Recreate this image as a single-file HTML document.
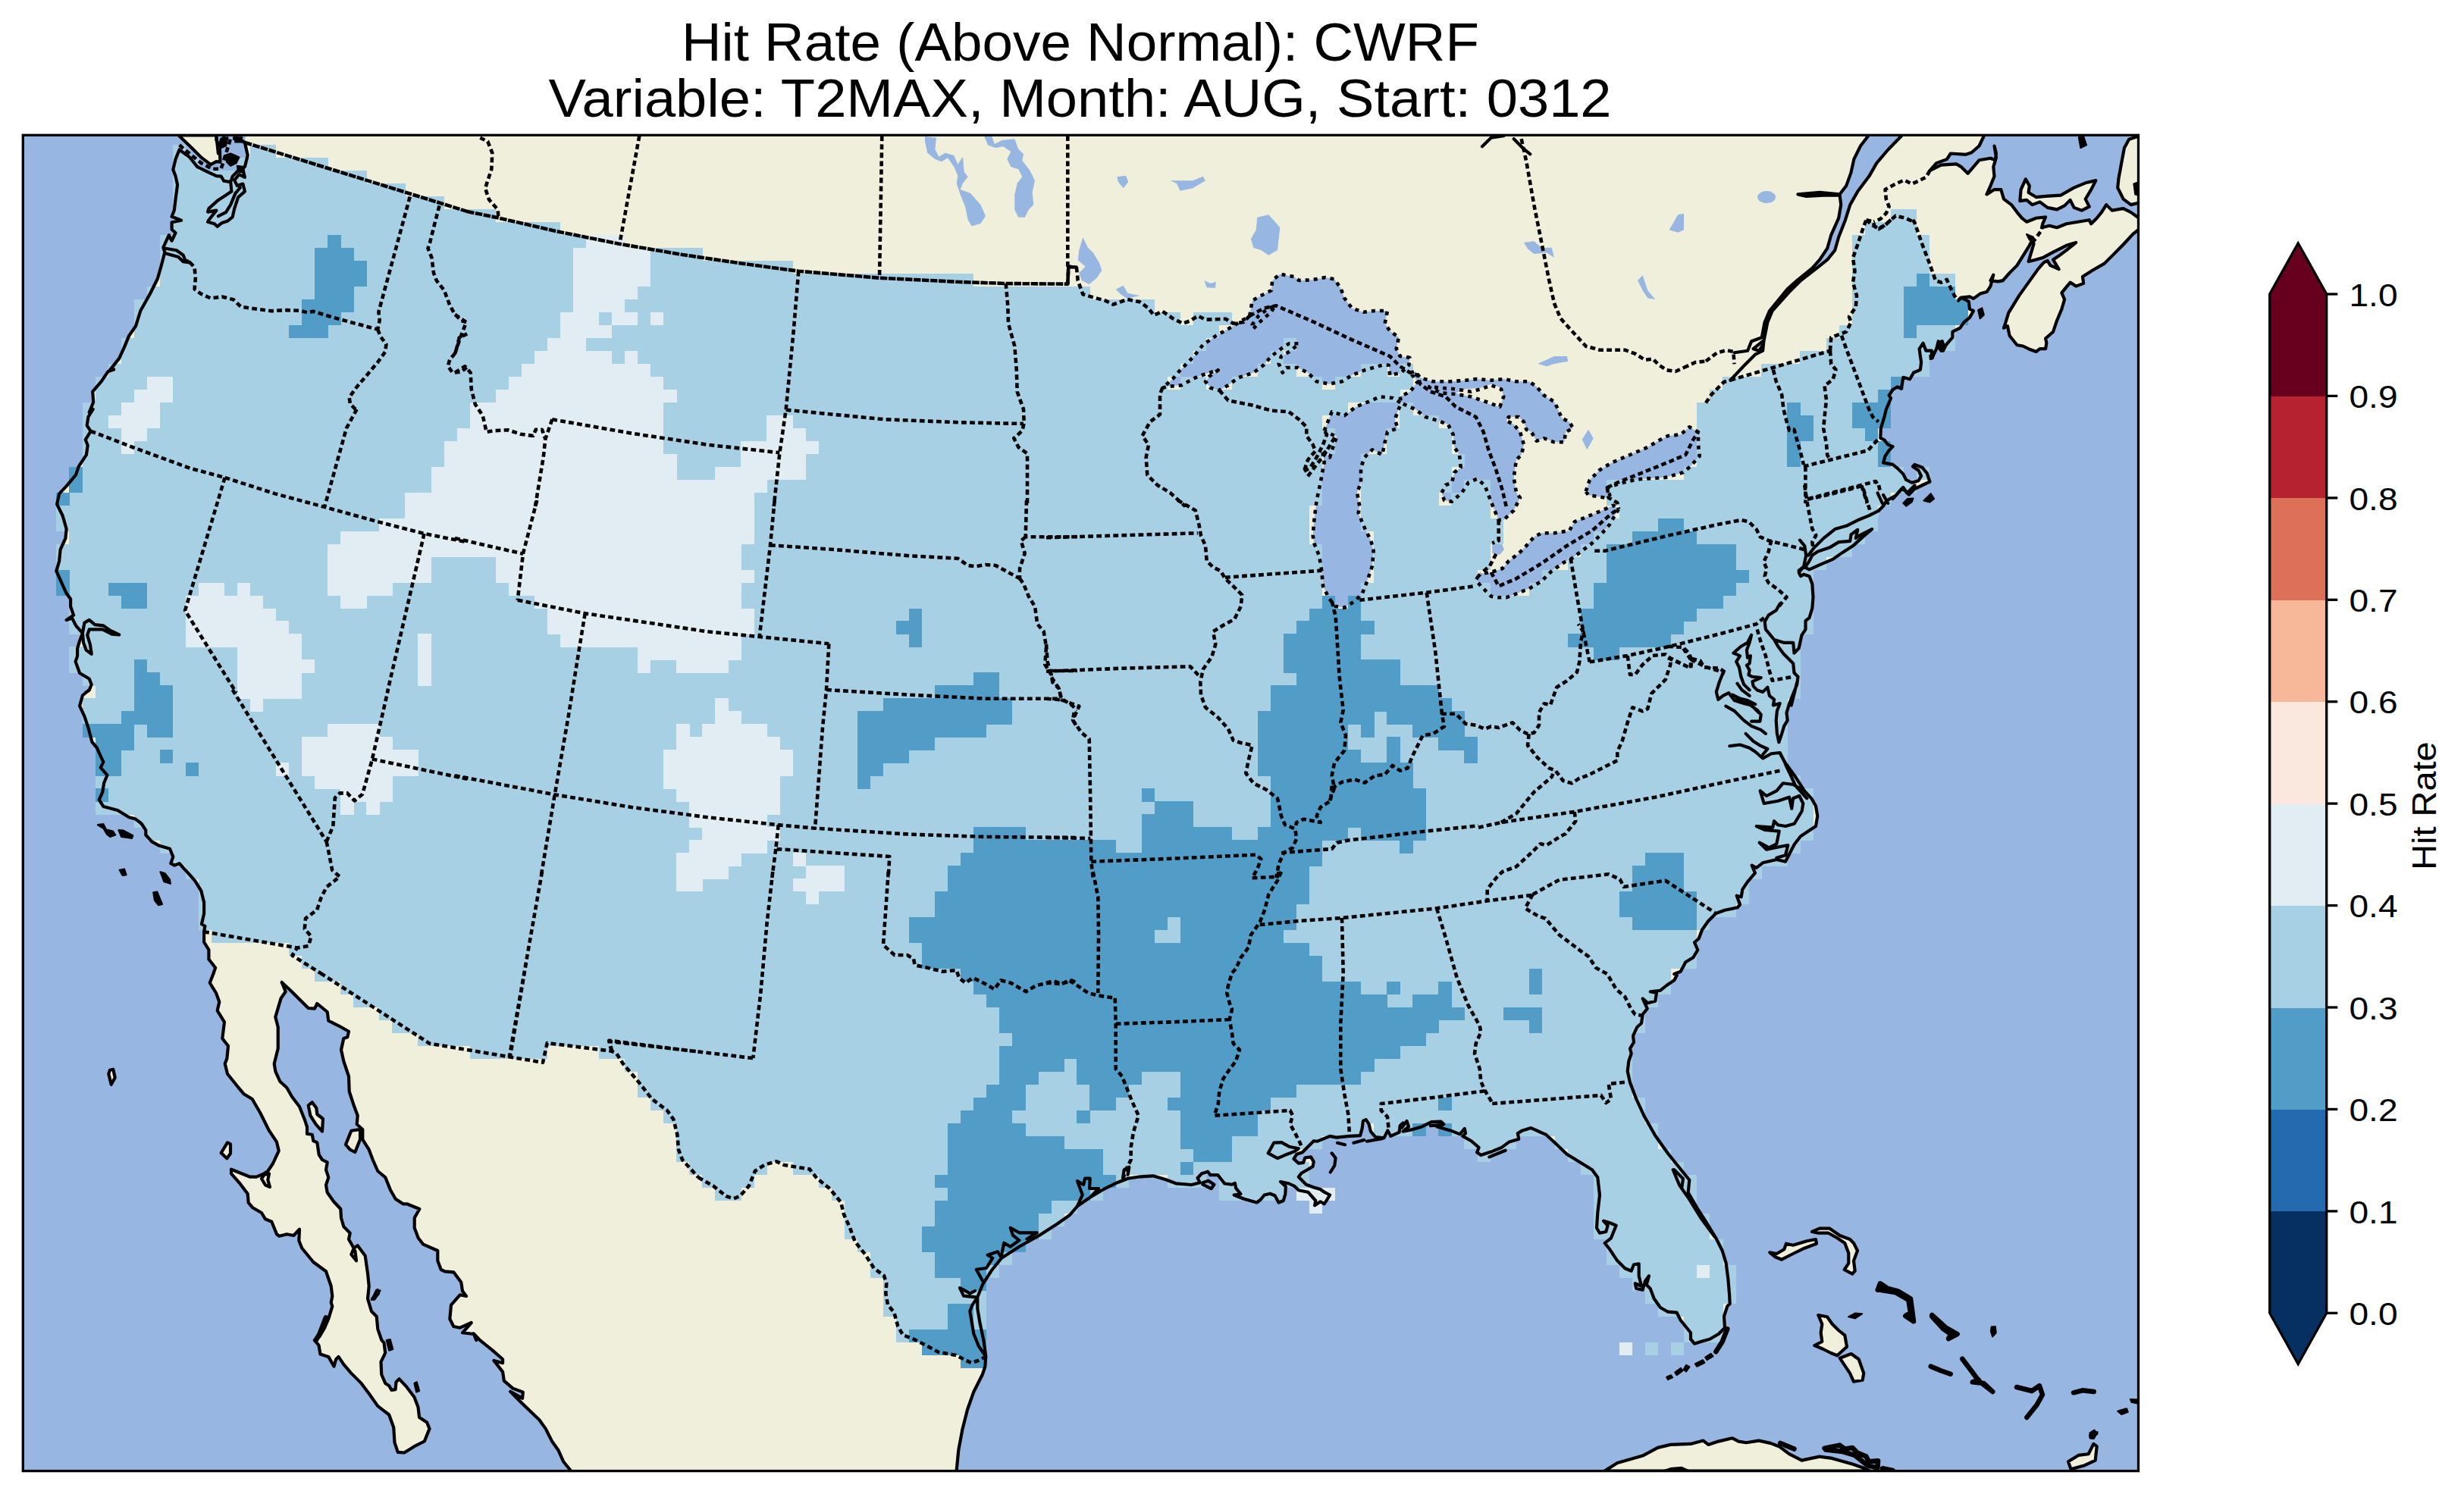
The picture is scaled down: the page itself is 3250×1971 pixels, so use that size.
<!DOCTYPE html><html><head><meta charset="utf-8"><style>html,body{margin:0;padding:0;background:#fff}svg{display:block}</style></head><body><svg width="3250" height="1971" viewBox="0 0 3250 1971">
<defs><clipPath id="fr"><rect x="30.3" y="178.3" width="2790.2" height="1762.3"/></clipPath></defs>
<rect width="3250" height="1971" fill="#fff"/>
<rect x="30.3" y="178.3" width="2790.2" height="1762.3" fill="#97b6e1"/>
<g clip-path="url(#fr)">
<path d="M325.0 173.3L322.9 188.0L326.7 205.0L322.9 220.1L315.4 223.8L306.7 232.6L304.2 240.1L295.4 238.8L291.6 232.6L285.4 232.1L272.9 226.3L260.3 220.1L250.3 207.6L236.6 197.5L236.6 197.5L231.6 210.1L228.3 223.8L231.6 232.6L234.1 243.8L231.6 262.6L229.8 277.6L226.6 285.7L239.1 290.7L226.6 293.2L226.6 302.7L231.6 307.2L226.6 317.7L222.8 310.2L215.3 326.5L217.3 332.7L212.8 350.2L207.8 367.8L197.8 387.8L185.2 410.3L179.0 430.3L170.2 442.9L164.0 457.9L157.2 472.9L145.2 487.9L150.2 487.4L142.7 489.9L133.9 502.9L122.2 516.7L123.2 530.5L117.7 544.0L122.7 540.0L116.4 550.0L114.7 561.3L119.7 568.8L112.7 580.1L115.7 587.6L113.9 600.1L103.9 615.1L100.1 626.4L87.6 641.4L78.1 651.4L75.1 665.2L82.6 680.2L87.6 697.7L86.4 710.2L79.6 725.2L78.1 740.3L74.3 753.3L81.4 769.1L87.6 782.8L93.1 790.3L93.1 800.3L97.1 811.6L87.6 817.9L95.1 815.4L100.1 825.4L108.9 835.4L105.1 845.4L102.1 855.4L102.1 865.4L99.6 872.9L105.1 888.0L117.7 895.5L120.7 903.0L117.7 910.5L112.7 914.0L117.7 910.0L108.9 917.5L105.1 931.3L111.4 945.0L116.4 960.1L121.4 978.8L127.7 986.4L132.7 997.6L136.4 1005.1L132.7 1012.6L141.4 1022.7L137.2 1032.7L135.2 1045.2L130.7 1055.2L136.4 1064.0L155.2 1069.0L170.2 1078.2L178.2 1080.2L186.5 1086.5L192.3 1095.2L192.3 1101.5L200.3 1110.3L210.3 1115.8L224.0 1119.8L228.3 1130.3L225.3 1139.1L230.3 1141.6L236.6 1139.1L243.3 1146.6L250.3 1154.1L257.8 1162.8L265.4 1175.4L269.1 1190.4L269.1 1205.4L265.9 1219.2L270.4 1221.7L269.1 1229.2L269.1 1229.2L269.1 1242.9L275.4 1253.0L275.4 1265.5L284.1 1276.7L281.6 1284.0L281.7 1284.0L276.7 1296.7L285.0 1310.0L289.3 1321.7L286.7 1333.3L296.0 1348.3L293.3 1370.0L301.0 1380.0L299.3 1396.7L296.7 1403.3L300.0 1416.7L313.3 1433.3L321.7 1443.3L332.7 1450.0L343.3 1468.3L355.0 1491.7L365.0 1506.7L367.7 1518.3L360.0 1535.0L353.3 1545.0L348.3 1548.3L338.3 1552.7L330.0 1552.7L305.0 1542.7L305.0 1548.3L316.7 1561.7L326.7 1575.0L327.7 1586.7L333.3 1593.3L345.0 1600.0L350.0 1608.3L358.3 1611.7L365.0 1628.3L368.3 1630.7L378.3 1628.3L387.3 1630.0L395.0 1621.7L394.3 1636.7L398.3 1646.7L413.3 1665.0L430.0 1677.3L436.7 1696.7L438.3 1710.0L436.7 1718.3L438.3 1723.3L433.3 1740.0L433.2 1739.9L428.2 1751.6L421.5 1763.3L414.9 1768.2L420.5 1774.9L422.5 1786.6L433.2 1789.9L440.5 1802.6L443.2 1793.2L446.5 1789.9L453.2 1799.9L463.2 1811.6L476.5 1824.9L486.5 1838.2L498.2 1854.9L513.2 1866.5L519.2 1883.2L520.5 1903.2L524.8 1915.9L533.2 1916.5L546.5 1908.2L559.8 1901.5L566.5 1884.9L563.1 1876.5L553.1 1869.9L551.5 1856.5L546.5 1843.2L536.5 1829.9L526.5 1819.2L522.5 1823.2L521.5 1833.2L516.5 1833.9L513.2 1828.2L508.2 1824.9L503.2 1813.2L502.5 1796.6L508.2 1784.9L506.5 1771.6L503.2 1767.9L503.3 1768.0L498.3 1753.3L496.7 1736.7L490.0 1730.0L485.0 1713.3L486.7 1696.7L485.0 1680.0L483.3 1668.3L481.7 1656.7L471.7 1643.3L466.7 1646.7L460.0 1635.0L461.7 1626.7L453.3 1618.3L450.0 1606.7L449.3 1595.0L440.0 1585.0L431.7 1573.3L430.0 1563.3L433.3 1553.3L430.0 1543.3L431.7 1533.3L425.0 1530.0L420.7 1523.3L418.3 1507.3L413.3 1505.0L411.7 1496.7L405.0 1496.0L405.0 1486.7L401.7 1476.7L395.0 1460.0L385.0 1446.7L378.3 1435.0L369.3 1426.7L363.3 1413.3L361.7 1403.3L366.7 1383.3L366.7 1355.0L363.3 1341.7L370.7 1316.7L376.7 1308.3L371.7 1296.0L371.7 1296.0L383.3 1306.7L393.3 1316.7L406.7 1330.0L415.0 1330.7L418.3 1324.0L431.7 1335.0L433.3 1346.7L446.7 1353.3L460.0 1360.7L458.3 1368.3L453.3 1370.0L450.0 1385.0L453.3 1400.0L460.0 1420.0L460.7 1440.0L466.7 1458.3L471.7 1471.7L470.7 1483.3L478.3 1490.0L478.3 1503.3L486.7 1516.7L491.7 1530.0L498.3 1545.0L508.3 1553.3L515.0 1570.0L521.7 1581.7L531.7 1588.3L536.7 1588.3L553.3 1595.0L546.7 1606.7L546.7 1620.0L551.7 1633.3L558.3 1641.7L577.3 1650.0L577.3 1663.3L581.7 1675.0L586.7 1677.3L598.3 1678.3L608.3 1691.7L610.0 1703.3L615.0 1710.0L606.7 1708.3L595.0 1721.7L593.3 1740.0L598.3 1750.0L606.7 1751.7L621.7 1745.0L610.0 1758.3L625.0 1760.0L628.3 1768.0L628.1 1767.9L624.8 1759.3L633.1 1768.2L649.8 1781.6L663.1 1793.2L663.1 1798.2L651.4 1794.9L663.1 1809.9L664.8 1821.6L676.4 1831.6L689.8 1836.6L689.1 1844.9L673.1 1835.9L686.4 1849.2L711.4 1873.2L719.7 1884.9L728.1 1901.5L736.4 1913.2L743.1 1928.2L753.1 1940.5L753.0 1945.6L1261.7 1945.6L1261.7 1939.7L1264.3 1913.0L1269.3 1886.3L1276.0 1859.7L1284.3 1836.3L1296.0 1813.0L1299.3 1803.0L1300.3 1789.7L1300.3 1789.7L1297.7 1769.7L1292.7 1746.3L1289.3 1726.3L1289.3 1711.3L1296.0 1694.7L1307.7 1676.3L1321.0 1659.7L1344.3 1644.7L1371.0 1629.7L1394.3 1614.7L1411.0 1603.0L1421.0 1591.3L1437.7 1579.7L1454.3 1569.7L1471.0 1561.3L1487.7 1554.7L1504.3 1552.3L1521.0 1551.3L1537.7 1556.3L1551.0 1561.3L1571.0 1563.0L1570.8 1563.2L1582.6 1560.2L1579.6 1554.0L1585.1 1548.2L1593.1 1545.7L1596.4 1550.2L1606.4 1550.2L1615.2 1561.5L1625.2 1562.7L1628.9 1561.0L1630.2 1567.7L1636.4 1575.2L1627.7 1576.5L1640.2 1581.5L1657.7 1586.5L1662.7 1582.8L1667.7 1576.5L1675.2 1574.7L1681.5 1577.3L1686.5 1586.5L1692.8 1584.0L1695.3 1575.2L1695.8 1565.2L1689.0 1559.0L1700.3 1561.5L1707.8 1565.2L1712.8 1570.2L1725.3 1572.7L1735.3 1584.0L1734.1 1590.3L1741.6 1585.3L1746.6 1588.3L1750.3 1582.8L1754.1 1576.5L1746.6 1572.7L1741.6 1569.0L1732.8 1566.5L1722.8 1562.7L1712.8 1552.7L1716.5 1547.7L1725.3 1542.7L1731.6 1538.9L1732.8 1532.7L1729.1 1526.4L1721.5 1527.2L1719.0 1533.9L1712.8 1534.7L1706.5 1528.9L1710.3 1522.7L1717.8 1520.2L1725.3 1512.7L1732.8 1505.2L1737.8 1505.7L1754.1 1498.9L1762.9 1500.6L1780.4 1498.9L1794.1 1498.1L1796.6 1488.9L1797.9 1478.9L1801.7 1477.1L1805.4 1482.6L1807.9 1492.6L1814.2 1500.1L1825.4 1501.4L1830.4 1491.4L1834.2 1498.9L1845.5 1493.9L1846.7 1485.1L1850.5 1481.4L1849.2 1487.6L1855.5 1478.9L1858.0 1486.4L1850.5 1492.6L1863.0 1490.1L1875.5 1486.4L1888.0 1480.1L1900.5 1479.6L1904.3 1483.1L1895.5 1486.4L1913.1 1491.4L1925.6 1496.4L1931.8 1488.9L1933.1 1495.1L1929.3 1498.9L1940.6 1505.2L1950.6 1513.9L1948.1 1520.2L1953.1 1523.9L1968.1 1518.9L1980.6 1513.9L1990.7 1506.4L2003.2 1502.7L2001.9 1495.1L2008.2 1491.4L2019.4 1488.1L2039.5 1497.1L2039.3 1497.0L2050.0 1506.7L2066.7 1522.7L2086.7 1535.0L2100.0 1543.3L2107.3 1553.3L2110.0 1576.7L2107.3 1600.0L2106.0 1620.0L2110.0 1626.7L2118.3 1625.0L2120.7 1616.7L2115.0 1610.7L2123.3 1613.3L2131.7 1616.7L2125.0 1633.3L2116.7 1640.0L2123.3 1648.3L2133.3 1663.3L2143.3 1673.3L2151.7 1676.7L2155.0 1668.3L2161.7 1667.3L2161.7 1683.3L2165.0 1696.7L2156.7 1693.3L2158.3 1700.0L2166.7 1701.7L2170.0 1690.0L2175.0 1683.3L2171.7 1695.0L2176.7 1700.0L2181.7 1713.3L2190.0 1725.0L2200.0 1730.7L2211.7 1731.7L2216.7 1741.7L2230.0 1758.3L2230.0 1766.7L2235.0 1772.7L2243.3 1770.0L2255.0 1766.7L2266.7 1760.0L2275.0 1751.7L2274.0 1736.7L2278.3 1723.3L2281.7 1720.0L2281.0 1706.7L2279.3 1686.7L2276.7 1666.7L2271.7 1650.0L2263.3 1633.3L2250.0 1611.7L2238.3 1593.3L2226.7 1573.3L2228.3 1556.7L2213.3 1538.3L2200.0 1521.7L2183.3 1498.3L2168.3 1471.7L2158.3 1450.0L2150.0 1428.3L2146.7 1413.3L2148.3 1400.0L2148.3 1400.0L2151.7 1390.0L2150.0 1383.3L2155.0 1375.0L2154.0 1366.7L2159.3 1355.0L2165.0 1350.0L2166.7 1338.3L2172.7 1330.7L2166.7 1317.3L2173.3 1323.3L2183.3 1320.7L2185.0 1310.0L2176.7 1308.3L2190.0 1306.7L2198.3 1300.0L2208.3 1293.3L2211.7 1286.7L2208.3 1285.0L2216.7 1281.7L2223.3 1269.3L2233.3 1263.3L2239.3 1253.3L2235.0 1243.3L2240.7 1238.3L2245.0 1226.7L2253.3 1215.0L2263.3 1205.0L2275.0 1200.7L2291.7 1197.3L2295.0 1193.3L2290.7 1181.7L2296.7 1183.3L2298.3 1173.3L2305.0 1163.3L2315.0 1151.7L2310.7 1141.7L2316.7 1145.0L2325.0 1138.3L2343.3 1134.0L2355.0 1136.7L2366.7 1114.0L2375.0 1103.3L2395.0 1090.0L2397.3 1076.7L2395.0 1063.3L2389.3 1053.3L2380.0 1043.3L2368.3 1025.0L2355.0 1006.7L2348.3 995.0L2348.2 995.0L2346.4 979.2L2350.2 967.9L2353.2 957.9L2357.7 950.4L2356.5 940.4L2360.2 927.9L2365.2 915.4L2370.2 902.9L2371.5 892.8L2366.5 887.8L2365.2 875.3L2366.5 861.5L2372.7 855.3L2376.5 837.8L2381.5 830.3L2381.5 819.0L2386.5 815.2L2390.3 802.7L2391.5 787.7L2390.3 770.2L2386.5 760.2L2379.0 757.7L2375.2 760.2L2372.7 755.2L2379.0 747.6L2386.5 751.4L2400.3 745.1L2417.8 737.6L2430.3 728.9L2444.1 720.1L2457.8 707.6L2469.1 698.1L2476.6 690.1L2477.9 673.8L2484.1 667.5L2487.9 661.3L2491.6 658.8L2500.4 653.8L2507.9 645.0L2512.9 647.5L2517.9 652.5L2525.4 645.0L2535.4 640.0L2525.4 645.0L2545.4 635.5L2541.6 624.2L2535.4 616.7L2525.4 612.9L2522.9 615.4L2530.4 620.4L2534.1 628.0L2530.4 634.2L2521.6 636.7L2514.1 633.0L2510.3 625.4L2502.8 617.9L2496.6 612.9L2484.1 610.4L2486.6 601.7L2491.6 594.2L2496.6 589.1L2490.3 586.6L2485.3 580.4L2480.3 577.9L2480.8 565.4L2485.3 550.3L2487.8 540.3L2494.1 525.3L2491.6 521.6L2496.6 514.0L2502.8 510.3L2507.8 512.8L2509.1 505.3L2510.3 497.8L2519.1 500.3L2524.1 491.5L2532.9 487.8L2534.1 477.8L2532.9 470.2L2531.6 460.2L2536.6 452.7L2540.4 462.7L2547.9 462.7L2547.9 472.7L2554.2 460.2L2556.7 450.2L2562.9 462.7L2566.7 455.2L2575.4 445.2L2575.4 437.7L2585.4 432.7L2590.5 425.2L2598.0 418.9L2603.0 410.2L2598.0 407.7L2596.7 397.6L2586.7 392.6L2586.7 392.6L2598.0 391.4L2603.0 393.9L2611.7 387.6L2620.5 385.1L2625.5 377.6L2629.3 362.6L2625.5 370.1L2635.5 371.4L2641.8 370.1L2650.5 360.1L2660.5 350.1L2670.6 333.8L2676.8 323.8L2680.1 317.5L2682.6 321.3L2679.3 332.6L2675.6 345.1L2685.6 342.6L2694.3 340.1L2708.1 332.6L2725.6 323.8L2738.2 320.0L2725.6 330.1L2715.6 337.6L2708.1 342.6L2715.6 355.1L2704.4 350.1L2700.6 343.8L2695.6 346.3L2688.1 355.1L2675.6 372.6L2663.1 390.1L2655.5 402.7L2649.3 412.7L2645.5 425.2L2643.0 432.7L2648.0 430.2L2650.5 442.7L2660.5 455.2L2668.1 456.5L2675.6 460.2L2685.6 464.0L2690.6 460.2L2698.1 460.2L2699.4 452.7L2698.1 446.5L2708.1 437.7L2713.1 422.7L2719.4 407.7L2723.1 395.1L2719.4 386.4L2724.4 380.1L2730.6 372.6L2738.2 377.6L2748.2 373.9L2746.9 365.1L2760.7 356.3L2775.7 347.6L2788.2 335.1L2800.7 322.5L2813.3 308.8L2821.3 302.5L2825.5 302.0L2825.5 287.0L2821.3 287.7L2810.7 280.1L2800.7 275.1L2785.7 277.6L2778.2 270.1L2771.9 280.1L2765.7 287.7L2758.2 295.2L2755.7 290.2L2740.7 292.7L2725.6 295.2L2713.1 300.2L2703.1 297.7L2693.1 300.2L2694.3 295.2L2698.1 286.4L2685.6 287.7L2673.1 292.7L2666.8 287.7L2660.5 280.1L2653.0 270.1L2643.0 262.6L2639.3 250.1L2630.5 250.1L2620.5 256.4L2625.5 245.1L2630.5 232.6L2629.3 220.1L2633.0 207.6L2630.5 192.5L2633.0 202.5L2631.8 211.3L2625.5 208.8L2610.5 211.3L2603.0 220.1L2595.5 228.8L2586.7 220.1L2580.4 216.3L2560.4 217.6L2545.4 225.1L2554.2 215.1L2567.9 210.1L2572.9 202.5L2593.0 203.8L2600.5 201.3L2610.5 192.5L2616.7 179.5L2616.7 173.3Z" fill="#efefdb"/>
<path d="M235.3 178.3L252.8 195.0L265.4 207.6L277.9 217.1L285.4 213.1L290.4 213.8L289.9 195.0L285.4 185.0L285.4 178.3ZM406.7 1458.3L411.7 1454.3L417.3 1461.7L418.3 1470.0L426.0 1476.0L425.0 1492.7L416.7 1483.3L409.3 1471.7ZM463.3 1491.7L475.0 1490.0L475.0 1503.3L468.3 1520.0L461.7 1516.7L456.0 1510.0ZM145.0 1411.7L149.3 1410.7L151.7 1421.7L146.7 1430.7L143.3 1416.7ZM291.7 1521.0L300.0 1507.3L304.0 1509.3L304.0 1521.7L299.3 1528.3ZM348.3 1550.0L355.0 1548.3L353.3 1556.7L356.0 1566.0L350.0 1563.3L345.0 1555.0ZM2334.3 1652.3L2343.3 1654.0L2353.3 1648.3L2356.0 1640.7L2365.0 1642.7L2383.3 1637.3L2395.0 1635.0L2396.0 1640.7L2380.0 1646.7L2365.0 1654.0L2350.0 1661.7L2341.7 1658.3ZM2390.0 1625.0L2400.0 1620.7L2413.3 1620.7L2426.7 1630.0L2440.0 1635.0L2445.0 1640.0L2450.0 1650.0L2445.0 1663.3L2446.7 1676.7L2443.3 1680.7L2432.7 1675.0L2438.3 1666.7L2438.3 1653.3L2433.3 1640.0L2423.3 1633.3L2411.7 1626.7L2398.3 1626.7ZM2398.3 1735.0L2410.0 1737.3L2416.7 1746.7L2425.0 1755.0L2433.3 1761.7L2436.0 1776.7L2423.3 1788.3L2415.0 1785.0L2405.0 1780.0L2393.3 1775.0L2403.3 1770.0L2401.7 1758.3L2403.3 1746.7ZM2426.7 1791.7L2441.7 1786.0L2451.7 1793.3L2458.3 1811.7L2456.7 1820.7L2445.0 1822.7L2440.0 1811.7L2433.3 1801.7ZM2116.6 1940.6L2133.3 1929.9L2166.6 1920.6L2186.6 1909.9L2203.3 1905.9L2229.9 1904.9L2246.6 1900.6L2253.2 1905.9L2266.6 1901.6L2284.9 1897.3L2293.2 1901.6L2303.2 1903.3L2319.9 1900.6L2334.9 1903.9L2346.5 1908.2L2359.9 1918.2L2376.5 1926.6L2399.8 1921.6L2416.5 1923.9L2443.2 1931.6L2459.8 1937.2L2466.5 1940.6ZM2728.0 1928.2L2741.4 1919.9L2754.7 1918.2L2761.4 1904.9L2765.7 1908.2L2763.7 1926.6L2749.7 1933.2L2731.4 1938.2ZM2664.3 265.1L2665.6 250.1L2671.8 236.3L2676.8 245.1L2675.6 253.9L2685.6 260.1L2698.1 258.9L2718.1 257.6L2735.6 247.6L2750.7 241.3L2764.4 238.1L2758.2 250.1L2750.7 262.6L2755.7 272.6L2745.7 277.6L2735.6 273.9L2730.6 263.9L2723.1 271.4L2713.1 276.4L2700.6 273.9L2690.6 266.4L2680.6 270.1L2673.1 263.9ZM2821.3 179.5L2808.2 183.8L2802.0 195.0L2798.2 215.1L2794.5 235.1L2793.2 247.6L2800.7 262.6L2810.7 270.1L2821.3 267.6Z" fill="#efefdb" stroke="#000" stroke-width="4.17" stroke-linejoin="round"/>
<path d="M2464.0 173.3L2464.0 179.5L2454.0 192.5L2445.3 210.1L2441.5 227.6L2435.2 245.1L2426.5 256.4L2428.2 270.1L2425.2 287.7L2415.2 310.2L2410.2 327.7L2400.2 342.7L2400.2 342.6L2390.2 353.8L2370.2 370.1L2357.6 381.4L2333.9 410.2L2327.6 425.2L2323.8 445.2L2326.4 450.2L2331.4 425.2L2337.6 410.2L2360.1 385.1L2375.2 370.1L2397.7 352.6L2410.2 342.6L2410.2 342.7L2420.2 330.2L2425.2 312.7L2434.0 290.2L2440.3 270.1L2450.3 252.6L2465.3 232.6L2475.3 215.1L2490.3 197.5L2507.8 179.5L2507.8 173.3Z" fill="#97b6e1"/>
<path d="M1648.3 416.7L1651.7 396.7L1663.3 390.0L1676.7 383.3L1678.3 370.0L1688.3 361.7L1706.7 365.0L1713.3 370.0L1730.0 369.3L1748.3 366.0L1760.0 368.3L1768.3 380.0L1773.3 393.3L1783.3 406.7L1798.3 411.7L1813.3 410.0L1830.0 410.0L1826.7 426.7L1833.3 436.7L1845.0 445.0L1841.7 460.0L1846.7 470.0L1859.3 471.7L1858.3 481.7L1848.3 491.7L1833.3 495.0L1831.7 481.7L1823.3 481.7L1800.0 488.3L1783.3 495.0L1770.0 503.3L1753.3 506.7L1736.7 503.3L1725.0 491.7L1711.7 485.0L1696.7 485.0L1691.7 491.7L1686.7 480.0L1690.0 470.0L1701.7 463.3L1713.3 453.3L1700.0 453.3L1690.0 460.0L1676.7 470.0L1666.7 481.7L1653.3 491.7L1633.3 498.3L1620.0 508.3L1608.3 515.0L1596.7 511.7L1590.0 503.3L1595.0 496.7L1606.7 488.3L1590.0 493.3L1576.7 498.3L1558.3 508.3L1540.0 510.0L1533.3 511.7L1546.7 500.0L1556.7 488.3L1573.3 471.7L1586.7 455.0L1603.3 443.3L1626.7 430.0ZM1746.7 568.3L1756.7 543.3L1773.3 548.3L1788.3 536.7L1805.0 530.0L1820.0 523.3L1836.7 525.0L1848.3 531.7L1843.3 543.3L1840.0 553.3L1843.3 565.0L1830.0 570.0L1826.7 583.3L1823.3 600.0L1810.0 593.3L1800.0 603.3L1795.0 616.7L1795.0 636.7L1790.0 650.0L1793.3 668.0L1791.7 676.7L1800.0 696.7L1808.3 713.3L1811.7 726.7L1810.0 746.7L1803.3 766.7L1796.7 783.3L1786.7 793.3L1773.3 801.7L1761.7 800.0L1753.3 790.0L1745.0 773.3L1743.3 753.3L1740.0 733.3L1733.3 716.7L1731.7 706.7L1733.3 686.7L1736.7 660.0L1741.7 636.7L1746.7 610.0L1744.0 593.3L1754.0 603.3L1759.3 586.7L1763.3 576.0L1758.3 574.0ZM1860.0 491.7L1866.7 490.0L1873.3 498.3L1890.0 503.3L1913.3 503.3L1933.3 501.7L1946.7 500.0L1966.7 501.7L1983.3 500.0L2000.0 503.3L2016.7 503.3L2026.7 510.0L2036.7 521.7L2050.0 530.0L2055.0 540.0L2060.0 551.7L2070.0 556.7L2075.0 565.0L2065.0 570.0L2063.3 583.3L2050.0 583.3L2036.7 578.3L2026.7 581.7L2020.0 570.0L2013.3 566.7L2010.0 556.7L2003.3 550.0L1990.0 550.0L1986.7 555.0L1996.7 560.0L2005.0 570.0L2010.0 586.7L2006.7 600.0L2000.0 606.7L1996.7 630.0L2000.0 650.0L2005.0 656.7L1996.7 673.3L1983.3 686.0L1976.7 686.0L1970.0 670.0L1963.3 653.3L1958.3 640.0L1948.3 631.7L1936.7 636.7L1928.3 650.0L1915.0 661.7L1905.0 660.0L1901.7 650.0L1906.7 640.0L1915.0 636.7L1918.3 623.3L1926.7 616.7L1925.0 600.0L1918.3 590.0L1916.7 573.3L1910.0 560.0L1896.7 555.0L1880.0 550.0L1866.7 540.0L1848.3 531.7L1846.7 523.3L1860.0 516.7L1870.0 503.3ZM1950.0 760.0L1946.7 765.0L1953.3 773.3L1966.7 786.7L1976.7 788.3L1986.7 788.3L2000.0 783.3L2016.7 776.7L2033.3 766.7L2046.7 753.3L2063.3 741.7L2073.3 736.7L2086.7 726.7L2100.0 716.7L2113.3 703.3L2123.3 691.7L2130.0 680.0L2135.0 671.7L2128.3 666.7L2113.3 673.3L2093.3 681.7L2076.7 688.3L2070.0 700.0L2050.0 703.3L2033.3 703.3L2023.3 708.3L2013.3 720.0L2003.3 730.0L1990.0 740.0L1981.7 750.0L1966.7 755.0L1953.3 756.7ZM2091.7 648.3L2096.7 633.3L2110.0 620.0L2126.7 610.0L2150.0 600.0L2173.3 590.0L2190.0 580.0L2200.0 575.0L2216.7 573.3L2228.3 563.3L2240.0 570.0L2240.0 586.7L2241.7 601.7L2230.0 615.0L2220.0 623.3L2196.7 630.0L2166.7 631.7L2146.7 635.0L2130.0 640.0L2120.0 643.3L2123.3 653.3L2118.3 656.7L2106.7 655.0L2095.0 653.3ZM1968.3 716.7L1980.0 715.0L1984.0 725.0L1978.3 731.7L1968.3 730.0ZM1220.0 180.0L1235.0 181.7L1233.3 196.7L1238.3 206.7L1246.7 201.7L1258.3 205.0L1263.3 216.7L1270.0 206.7L1271.7 226.7L1276.7 233.3L1270.0 241.7L1266.7 250.0L1280.0 255.0L1293.3 270.0L1300.0 285.0L1293.3 295.0L1281.7 298.3L1276.7 290.0L1273.3 273.3L1266.7 256.7L1261.7 241.7L1263.3 231.7L1258.3 220.0L1250.0 208.3L1241.7 213.3L1233.3 210.0L1223.3 201.7L1220.0 186.7ZM1298.3 180.0L1308.3 180.0L1311.7 190.0L1321.7 185.0L1338.3 183.3L1343.3 196.7L1350.0 203.3L1348.3 211.7L1358.3 225.0L1365.0 238.3L1361.7 253.3L1363.3 270.0L1356.7 276.7L1351.7 286.7L1343.3 286.7L1338.3 276.7L1338.3 256.7L1341.7 241.7L1348.3 233.3L1343.3 223.3L1333.3 220.0L1328.3 210.0L1333.3 200.0L1323.3 193.3L1313.3 195.0L1303.3 191.7ZM1658.3 286.7L1673.3 283.3L1688.3 300.0L1685.0 330.0L1673.3 336.7L1663.3 330.0L1653.3 326.7L1650.0 315.0L1656.7 303.3ZM1428.3 313.3L1435.0 326.7L1441.7 333.3L1450.0 346.7L1453.3 356.7L1446.7 366.7L1436.7 375.0L1426.7 370.0L1423.3 360.0L1431.7 351.7L1421.7 343.3L1423.3 330.0ZM1473.3 233.3L1485.0 231.7L1488.3 240.0L1481.7 248.3L1475.0 240.0ZM1543.3 238.3L1573.3 238.3L1586.7 232.7L1590.0 238.3L1573.3 248.3L1556.7 251.7L1551.7 241.7ZM2010.0 320.0L2023.3 318.3L2033.3 326.7L2046.7 326.7L2050.0 340.0L2040.0 333.3L2023.3 335.0L2015.0 328.3ZM2028.3 480.0L2050.0 470.0L2066.7 470.0L2068.3 476.7L2050.0 480.0L2040.0 483.3ZM2086.7 580.0L2095.0 566.7L2101.7 578.3L2093.3 593.3ZM1588.3 370.0L1596.7 374.0L1604.0 371.7L1602.7 380.0L1591.7 379.3ZM2201.7 303.3L2213.3 283.3L2221.0 281.7L2221.0 303.3L2213.3 306.7ZM2160.0 370.0L2166.7 363.3L2173.3 383.3L2183.3 395.0L2173.3 393.3L2166.7 383.3ZM1471.7 381.7L1481.7 376.7L1487.3 386.7L1503.3 390.0L1486.7 394.0L1478.3 388.3Z" fill="#97b6e1"/>
<ellipse cx="2330.1" cy="260.1" rx="12.0" ry="8.0" fill="#97b6e1"/>
<path d="M1920.0 518.3L1933.3 513.3L1953.3 511.7L1966.7 506.7L1980.0 511.7L1983.3 523.3L1978.3 536.7L1960.0 531.7L1940.0 524.0Z" fill="#efefdb"/>
<path d="M227.7 191.0H245.1V208.3H227.7ZM329.9 191.0H364.3V208.3H329.9ZM227.7 208.0H262.1V225.3H227.7ZM312.9 208.0H432.5V225.3H312.9ZM227.7 225.0H483.6V242.3H227.7ZM227.7 242.0H534.7V259.2H227.7ZM227.7 258.9H585.8V276.2H227.7ZM227.7 275.9H653.9V293.2H227.7ZM2493.6 275.9H2528.0V293.2H2493.6ZM227.7 292.9H739.1V310.2H227.7ZM2459.6 292.9H2528.0V310.2H2459.6ZM210.7 309.9H432.5V327.2H210.7ZM449.2 309.9H773.2V327.2H449.2ZM2442.5 309.9H2545.0V327.2H2442.5ZM210.7 326.9H415.4V344.2H210.7ZM466.2 326.9H756.2V344.2H466.2ZM858.1 326.9H926.5V344.2H858.1ZM2442.5 326.9H2545.0V344.2H2442.5ZM210.7 343.9H415.4V361.2H210.7ZM483.3 343.9H756.2V361.2H483.3ZM858.1 343.9H1045.8V361.2H858.1ZM2442.5 343.9H2545.0V361.2H2442.5ZM210.7 360.9H415.4V378.1H210.7ZM483.3 360.9H756.2V378.1H483.3ZM858.1 360.9H1284.3V378.1H858.1ZM2442.5 360.9H2528.0V378.1H2442.5ZM2544.7 360.9H2579.1V378.1H2544.7ZM193.6 377.8H415.4V395.1H193.6ZM466.2 377.8H756.2V395.1H466.2ZM841.0 377.8H1437.6V395.1H841.0ZM2442.5 377.8H2511.0V395.1H2442.5ZM176.6 394.8H398.4V412.1H176.6ZM466.2 394.8H756.2V412.1H466.2ZM824.0 394.8H1522.8V412.1H824.0ZM2442.5 394.8H2511.0V412.1H2442.5ZM176.6 411.8H398.4V429.1H176.6ZM449.2 411.8H739.1V429.1H449.2ZM789.9 411.8H807.3V429.1H789.9ZM841.0 411.8H858.4V429.1H841.0ZM875.1 411.8H1556.9V429.1H875.1ZM1573.6 411.8H1625.1V429.1H1573.6ZM2442.5 411.8H2511.0V429.1H2442.5ZM176.6 428.8H381.4V446.1H176.6ZM432.2 428.8H739.1V446.1H432.2ZM807.0 428.8H1608.0V446.1H807.0ZM2425.5 428.8H2511.0V446.1H2425.5ZM2527.7 428.8H2579.1V446.1H2527.7ZM159.6 445.8H722.1V463.1H159.6ZM772.9 445.8H1591.0V463.1H772.9ZM1692.9 445.8H1710.2V463.1H1692.9ZM2408.5 445.8H2579.1V463.1H2408.5ZM159.6 462.8H705.1V480.1H159.6ZM807.0 462.8H824.3V480.1H807.0ZM841.0 462.8H1573.9V480.1H841.0ZM1675.9 462.8H1693.2V480.1H1675.9ZM2374.4 462.8H2545.0V480.1H2374.4ZM142.5 479.8H688.0V497.0H142.5ZM858.1 479.8H1556.9V497.0H858.1ZM1658.8 479.8H1710.2V497.0H1658.8ZM1795.1 479.8H1829.5V497.0H1795.1ZM1846.2 479.8H1863.6V497.0H1846.2ZM2323.3 479.8H2545.0V497.0H2323.3ZM125.5 496.7H193.9V514.0H125.5ZM227.7 496.7H671.0V514.0H227.7ZM875.1 496.7H1539.9V514.0H875.1ZM1556.6 496.7H1591.0V514.0H1556.6ZM1624.8 496.7H1744.3V514.0H1624.8ZM1761.0 496.7H1863.6V514.0H1761.0ZM2272.2 496.7H2493.9V514.0H2272.2ZM125.5 513.7H176.9V531.0H125.5ZM227.7 513.7H653.9V531.0H227.7ZM892.2 513.7H1846.5V531.0H892.2ZM2255.1 513.7H2476.9V531.0H2255.1ZM108.5 530.7H159.9V548.0H108.5ZM210.7 530.7H619.9V548.0H210.7ZM875.1 530.7H1778.4V548.0H875.1ZM1846.2 530.7H1863.6V548.0H1846.2ZM2238.1 530.7H2357.6V548.0H2238.1ZM2374.4 530.7H2442.8V548.0H2374.4ZM108.5 547.7H142.8V565.0H108.5ZM210.7 547.7H619.9V565.0H210.7ZM875.1 547.7H1011.7V565.0H875.1ZM1045.5 547.7H1744.3V565.0H1045.5ZM1846.2 547.7H1897.6V565.0H1846.2ZM2238.1 547.7H2357.6V565.0H2238.1ZM2391.4 547.7H2442.8V565.0H2391.4ZM108.5 564.7H159.9V582.0H108.5ZM193.6 564.7H602.8V582.0H193.6ZM875.1 564.7H1011.7V582.0H875.1ZM1062.5 564.7H1761.3V582.0H1062.5ZM1829.2 564.7H1914.7V582.0H1829.2ZM2238.1 564.7H2357.6V582.0H2238.1ZM2391.4 564.7H2459.9V582.0H2391.4ZM108.5 581.7H159.9V598.9H108.5ZM176.6 581.7H585.8V598.9H176.6ZM875.1 581.7H977.6V598.9H875.1ZM1079.6 581.7H1761.3V598.9H1079.6ZM1829.2 581.7H1914.7V598.9H1829.2ZM2238.1 581.7H2357.6V598.9H2238.1ZM2374.4 581.7H2476.9V598.9H2374.4ZM108.5 598.6H585.8V615.9H108.5ZM892.2 598.6H977.6V615.9H892.2ZM1062.5 598.6H1744.3V615.9H1062.5ZM1795.1 598.6H1931.7V615.9H1795.1ZM2238.1 598.6H2357.6V615.9H2238.1ZM2374.4 598.6H2476.9V615.9H2374.4ZM108.5 615.6H568.8V632.9H108.5ZM892.2 615.6H943.6V632.9H892.2ZM1062.5 615.6H1744.3V632.9H1062.5ZM1795.1 615.6H1914.7V632.9H1795.1ZM2221.0 615.6H2511.0V632.9H2221.0ZM2527.7 615.6H2545.0V632.9H2527.7ZM108.5 632.6H568.8V649.9H108.5ZM1011.4 632.6H1744.3V649.9H1011.4ZM1795.1 632.6H1914.7V649.9H1795.1ZM1931.4 632.6H1965.8V649.9H1931.4ZM2118.8 632.6H2528.0V649.9H2118.8ZM91.4 649.6H534.7V666.9H91.4ZM994.4 649.6H1744.3V666.9H994.4ZM1795.1 649.6H1897.6V666.9H1795.1ZM1914.4 649.6H1965.8V666.9H1914.4ZM2118.8 649.6H2493.9V666.9H2118.8ZM74.4 666.6H534.7V683.9H74.4ZM994.4 666.6H1727.3V683.9H994.4ZM1795.1 666.6H1965.8V683.9H1795.1ZM2135.9 666.6H2476.9V683.9H2135.9ZM74.4 683.6H500.6V700.9H74.4ZM994.4 683.6H1727.3V700.9H994.4ZM1795.1 683.6H1982.8V700.9H1795.1ZM2118.8 683.6H2187.3V700.9H2118.8ZM2221.0 683.6H2476.9V700.9H2221.0ZM91.4 700.6H449.5V717.8H91.4ZM994.4 700.6H1727.3V717.8H994.4ZM1812.2 700.6H1982.8V717.8H1812.2ZM2101.8 700.6H2153.2V717.8H2101.8ZM2238.1 700.6H2459.9V717.8H2238.1ZM74.4 717.5H432.5V734.8H74.4ZM977.3 717.5H1744.3V734.8H977.3ZM1812.2 717.5H1965.8V734.8H1812.2ZM2084.8 717.5H2119.1V734.8H2084.8ZM2289.2 717.5H2442.8V734.8H2289.2ZM74.4 734.5H432.5V751.8H74.4ZM568.5 734.5H653.9V751.8H568.5ZM977.3 734.5H1744.3V751.8H977.3ZM1812.2 734.5H1965.8V751.8H1812.2ZM2067.7 734.5H2119.1V751.8H2067.7ZM2289.2 734.5H2408.8V751.8H2289.2ZM91.4 751.5H432.5V768.8H91.4ZM568.5 751.5H653.9V768.8H568.5ZM994.4 751.5H1744.3V768.8H994.4ZM1812.2 751.5H1948.8V768.8H1812.2ZM2033.6 751.5H2119.1V768.8H2033.6ZM2306.2 751.5H2391.7V768.8H2306.2ZM91.4 768.5H142.8V785.8H91.4ZM193.6 768.5H262.1V785.8H193.6ZM295.9 768.5H313.2V785.8H295.9ZM329.9 768.5H432.5V785.8H329.9ZM517.3 768.5H671.0V785.8H517.3ZM977.3 768.5H1744.3V785.8H977.3ZM1795.1 768.5H1965.8V785.8H1795.1ZM2016.6 768.5H2102.1V785.8H2016.6ZM2289.2 768.5H2391.7V785.8H2289.2ZM91.4 785.5H159.9V802.8H91.4ZM193.6 785.5H245.1V802.8H193.6ZM347.0 785.5H449.5V802.8H347.0ZM483.3 785.5H705.1V802.8H483.3ZM977.3 785.5H1744.3V802.8H977.3ZM1795.1 785.5H2102.1V802.8H1795.1ZM2272.2 785.5H2391.7V802.8H2272.2ZM91.4 802.5H245.1V819.7H91.4ZM364.0 802.5H722.1V819.7H364.0ZM994.4 802.5H1199.1V819.7H994.4ZM1215.9 802.5H1727.3V819.7H1215.9ZM1795.1 802.5H2085.1V819.7H1795.1ZM2238.1 802.5H2391.7V819.7H2238.1ZM91.4 819.4H245.1V836.7H91.4ZM381.1 819.4H722.1V836.7H381.1ZM994.4 819.4H1182.1V836.7H994.4ZM1215.9 819.4H1710.2V836.7H1215.9ZM1812.2 819.4H2085.1V836.7H1812.2ZM2221.0 819.4H2391.7V836.7H2221.0ZM108.5 836.4H245.1V853.7H108.5ZM398.1 836.4H551.7V853.7H398.1ZM568.5 836.4H739.1V853.7H568.5ZM977.3 836.4H1199.1V853.7H977.3ZM1215.9 836.4H1693.2V853.7H1215.9ZM1795.1 836.4H2068.0V853.7H1795.1ZM2204.0 836.4H2374.7V853.7H2204.0ZM91.4 853.4H313.2V870.7H91.4ZM398.1 853.4H551.7V870.7H398.1ZM568.5 853.4H841.3V870.7H568.5ZM977.3 853.4H1693.2V870.7H977.3ZM1795.1 853.4H2102.1V870.7H1795.1ZM2135.9 853.4H2374.7V870.7H2135.9ZM91.4 870.4H176.9V887.7H91.4ZM193.6 870.4H313.2V887.7H193.6ZM415.1 870.4H551.7V887.7H415.1ZM568.5 870.4H841.3V887.7H568.5ZM858.1 870.4H892.5V887.7H858.1ZM960.3 870.4H1693.2V887.7H960.3ZM1846.2 870.4H2374.7V887.7H1846.2ZM108.5 887.4H176.9V904.7H108.5ZM210.7 887.4H313.2V904.7H210.7ZM398.1 887.4H551.7V904.7H398.1ZM568.5 887.4H1284.3V904.7H568.5ZM1318.1 887.4H1710.2V904.7H1318.1ZM1846.2 887.4H2374.7V904.7H1846.2ZM125.5 904.4H176.9V921.7H125.5ZM227.7 904.4H313.2V921.7H227.7ZM398.1 904.4H1233.2V921.7H398.1ZM1318.1 904.4H1676.2V921.7H1318.1ZM1897.3 904.4H2374.7V921.7H1897.3ZM108.5 921.4H176.9V938.6H108.5ZM227.7 921.4H330.2V938.6H227.7ZM347.0 921.4H943.6V938.6H347.0ZM960.3 921.4H1165.1V938.6H960.3ZM1335.1 921.4H1676.2V938.6H1335.1ZM1914.4 921.4H2357.6V938.6H1914.4ZM108.5 938.3H159.9V955.6H108.5ZM227.7 938.3H943.6V955.6H227.7ZM977.3 938.3H1131.0V955.6H977.3ZM1335.1 938.3H1659.1V955.6H1335.1ZM1812.2 938.3H1829.5V955.6H1812.2ZM1931.4 938.3H2357.6V955.6H1931.4ZM176.6 955.3H193.9V972.6H176.6ZM227.7 955.3H432.5V972.6H227.7ZM500.3 955.3H892.5V972.6H500.3ZM909.2 955.3H926.5V972.6H909.2ZM1011.4 955.3H1131.0V972.6H1011.4ZM1301.0 955.3H1659.1V972.6H1301.0ZM1778.1 955.3H1795.4V972.6H1778.1ZM1812.2 955.3H1863.6V972.6H1812.2ZM1931.4 955.3H2357.6V972.6H1931.4ZM176.6 972.3H398.4V989.6H176.6ZM517.3 972.3H892.5V989.6H517.3ZM1028.5 972.3H1131.0V989.6H1028.5ZM1232.9 972.3H1659.1V989.6H1232.9ZM1778.1 972.3H1829.5V989.6H1778.1ZM1846.2 972.3H1897.6V989.6H1846.2ZM1948.5 972.3H2357.6V989.6H1948.5ZM159.6 989.3H211.0V1006.6H159.6ZM227.7 989.3H398.4V1006.6H227.7ZM551.4 989.3H875.4V1006.6H551.4ZM1045.5 989.3H1131.0V1006.6H1045.5ZM1198.8 989.3H1659.1V1006.6H1198.8ZM1795.1 989.3H1829.5V1006.6H1795.1ZM1846.2 989.3H1931.7V1006.6H1846.2ZM1948.5 989.3H2357.6V1006.6H1948.5ZM159.6 1006.3H245.1V1023.6H159.6ZM261.8 1006.3H364.3V1023.6H261.8ZM381.1 1006.3H398.4V1023.6H381.1ZM551.4 1006.3H875.4V1023.6H551.4ZM1045.5 1006.3H1131.0V1023.6H1045.5ZM1164.8 1006.3H1659.1V1023.6H1164.8ZM1863.3 1006.3H2357.6V1023.6H1863.3ZM125.5 1023.3H415.4V1040.6H125.5ZM517.3 1023.3H875.4V1040.6H517.3ZM1028.5 1023.3H1131.0V1040.6H1028.5ZM1147.7 1023.3H1676.2V1040.6H1147.7ZM1863.3 1023.3H2374.7V1040.6H1863.3ZM142.5 1040.3H449.5V1057.5H142.5ZM517.3 1040.3H892.5V1057.5H517.3ZM1028.5 1040.3H1505.8V1057.5H1028.5ZM1522.5 1040.3H1676.2V1057.5H1522.5ZM1880.3 1040.3H2391.7V1057.5H1880.3ZM125.5 1057.2H449.5V1074.5H125.5ZM466.2 1057.2H483.6V1074.5H466.2ZM500.3 1057.2H909.5V1074.5H500.3ZM1028.5 1057.2H1522.8V1074.5H1028.5ZM1573.6 1057.2H1676.2V1074.5H1573.6ZM1880.3 1057.2H2391.7V1074.5H1880.3ZM176.6 1074.2H909.5V1091.5H176.6ZM1011.4 1074.2H1505.8V1091.5H1011.4ZM1573.6 1074.2H1676.2V1091.5H1573.6ZM1880.3 1074.2H2391.7V1091.5H1880.3ZM193.6 1091.2H926.5V1108.5H193.6ZM1028.5 1091.2H1284.3V1108.5H1028.5ZM1352.2 1091.2H1505.8V1108.5H1352.2ZM1624.8 1091.2H1659.1V1108.5H1624.8ZM1778.1 1091.2H1795.4V1108.5H1778.1ZM1880.3 1091.2H2391.7V1108.5H1880.3ZM210.7 1108.2H909.5V1125.5H210.7ZM1011.4 1108.2H1284.3V1125.5H1011.4ZM1471.4 1108.2H1505.8V1125.5H1471.4ZM1744.0 1108.2H1846.5V1125.5H1744.0ZM1863.3 1108.2H2374.7V1125.5H1863.3ZM227.7 1125.2H892.5V1142.5H227.7ZM977.3 1125.2H1045.8V1142.5H977.3ZM1062.5 1125.2H1267.3V1142.5H1062.5ZM1744.0 1125.2H2170.2V1142.5H1744.0ZM2221.0 1125.2H2357.6V1142.5H2221.0ZM244.8 1142.2H892.5V1159.5H244.8ZM960.3 1142.2H1062.8V1159.5H960.3ZM1113.6 1142.2H1250.2V1159.5H1113.6ZM1727.0 1142.2H2153.2V1159.5H1727.0ZM2221.0 1142.2H2323.6V1159.5H2221.0ZM261.8 1159.2H892.5V1176.4H261.8ZM926.2 1159.2H1045.8V1176.4H926.2ZM1113.6 1159.2H1250.2V1176.4H1113.6ZM1727.0 1159.2H2153.2V1176.4H1727.0ZM2221.0 1159.2H2306.5V1176.4H2221.0ZM261.8 1176.1H1062.8V1193.4H261.8ZM1079.6 1176.1H1233.2V1193.4H1079.6ZM1727.0 1176.1H2136.2V1193.4H1727.0ZM2238.1 1176.1H2306.5V1193.4H2238.1ZM261.8 1193.1H1233.2V1210.4H261.8ZM1709.9 1193.1H2136.2V1210.4H1709.9ZM2238.1 1193.1H2289.5V1210.4H2238.1ZM261.8 1210.1H1199.1V1227.4H261.8ZM1539.6 1210.1H1556.9V1227.4H1539.6ZM1709.9 1210.1H2153.2V1227.4H1709.9ZM2238.1 1210.1H2255.4V1227.4H2238.1ZM278.8 1227.1H1199.1V1244.4H278.8ZM1522.5 1227.1H1556.9V1244.4H1522.5ZM1692.9 1227.1H2238.4V1244.4H1692.9ZM381.1 1244.1H1216.2V1261.4H381.1ZM1727.0 1244.1H2238.4V1261.4H1727.0ZM398.1 1261.1H1216.2V1278.3H398.1ZM1744.0 1261.1H2238.4V1278.3H1744.0ZM415.1 1278.0H1267.3V1295.3H415.1ZM1744.0 1278.0H2016.9V1295.3H1744.0ZM2033.6 1278.0H2204.3V1295.3H2033.6ZM449.2 1295.0H1284.3V1312.3H449.2ZM1795.1 1295.0H1829.5V1312.3H1795.1ZM1846.2 1295.0H1897.6V1312.3H1846.2ZM1914.4 1295.0H2016.9V1312.3H1914.4ZM2033.6 1295.0H2204.3V1312.3H2033.6ZM466.2 1312.0H1301.3V1329.3H466.2ZM1829.2 1312.0H1863.6V1329.3H1829.2ZM1914.4 1312.0H2187.3V1329.3H1914.4ZM500.3 1329.0H1318.4V1346.3H500.3ZM1931.4 1329.0H1982.8V1346.3H1931.4ZM2033.6 1329.0H2170.2V1346.3H2033.6ZM517.3 1346.0H1318.4V1363.3H517.3ZM1897.3 1346.0H2016.9V1363.3H1897.3ZM2033.6 1346.0H2170.2V1363.3H2033.6ZM551.4 1363.0H1335.4V1380.3H551.4ZM1880.3 1363.0H2153.2V1380.3H1880.3ZM619.6 1380.0H722.1V1397.2H619.6ZM789.9 1380.0H1318.4V1397.2H789.9ZM1846.2 1380.0H2153.2V1397.2H1846.2ZM824.0 1396.9H1318.4V1414.2H824.0ZM1403.3 1396.9H1420.6V1414.2H1403.3ZM1812.2 1396.9H2153.2V1414.2H1812.2ZM841.0 1413.9H1318.4V1431.2H841.0ZM1369.2 1413.9H1420.6V1431.2H1369.2ZM1505.5 1413.9H1556.9V1431.2H1505.5ZM1795.1 1413.9H2153.2V1431.2H1795.1ZM841.0 1430.9H1301.3V1448.2H841.0ZM1352.2 1430.9H1437.6V1448.2H1352.2ZM1488.5 1430.9H1556.9V1448.2H1488.5ZM1709.9 1430.9H2153.2V1448.2H1709.9ZM858.1 1447.9H1284.3V1465.2H858.1ZM1352.2 1447.9H1437.6V1465.2H1352.2ZM1471.4 1447.9H1539.9V1465.2H1471.4ZM1675.9 1447.9H1897.6V1465.2H1675.9ZM1914.4 1447.9H2170.2V1465.2H1914.4ZM875.1 1464.9H1267.3V1482.2H875.1ZM1335.1 1464.9H1420.6V1482.2H1335.1ZM1437.3 1464.9H1556.9V1482.2H1437.3ZM1658.8 1464.9H2170.2V1482.2H1658.8ZM892.2 1481.9H1250.2V1499.1H892.2ZM1352.2 1481.9H1556.9V1499.1H1352.2ZM1658.8 1481.9H1795.4V1499.1H1658.8ZM1812.2 1481.9H1863.6V1499.1H1812.2ZM1914.4 1481.9H2187.3V1499.1H1914.4ZM892.2 1498.8H1250.2V1516.1H892.2ZM1403.3 1498.8H1556.9V1516.1H1403.3ZM1624.8 1498.8H1744.3V1516.1H1624.8ZM1931.4 1498.8H1999.9V1516.1H1931.4ZM2050.7 1498.8H2187.3V1516.1H2050.7ZM892.2 1515.8H1250.2V1533.1H892.2ZM1454.4 1515.8H1573.9V1533.1H1454.4ZM1624.8 1515.8H1710.2V1533.1H1624.8ZM1948.5 1515.8H1965.8V1533.1H1948.5ZM2067.7 1515.8H2204.3V1533.1H2067.7ZM909.2 1532.8H1011.7V1550.1H909.2ZM1045.5 1532.8H1250.2V1550.1H1045.5ZM1454.4 1532.8H1556.9V1550.1H1454.4ZM1573.6 1532.8H1727.3V1550.1H1573.6ZM2084.8 1532.8H2221.3V1550.1H2084.8ZM926.2 1549.8H994.7V1567.1H926.2ZM1079.6 1549.8H1233.2V1567.1H1079.6ZM1471.4 1549.8H1488.8V1567.1H1471.4ZM1539.6 1549.8H1591.0V1567.1H1539.6ZM1607.7 1549.8H1727.3V1567.1H1607.7ZM2101.8 1549.8H2238.4V1567.1H2101.8ZM943.3 1566.8H977.6V1584.1H943.3ZM1096.6 1566.8H1250.2V1584.1H1096.6ZM1437.3 1566.8H1454.7V1584.1H1437.3ZM1607.7 1566.8H1693.2V1584.1H1607.7ZM2101.8 1566.8H2238.4V1584.1H2101.8ZM1113.6 1583.8H1233.2V1601.1H1113.6ZM1386.2 1583.8H1420.6V1601.1H1386.2ZM2101.8 1583.8H2238.4V1601.1H2101.8ZM1113.6 1600.8H1233.2V1618.0H1113.6ZM1369.2 1600.8H1403.6V1618.0H1369.2ZM2101.8 1600.8H2255.4V1618.0H2101.8ZM1113.6 1617.7H1216.2V1635.0H1113.6ZM1369.2 1617.7H1386.5V1635.0H1369.2ZM2101.8 1617.7H2255.4V1635.0H2101.8ZM1130.7 1634.7H1216.2V1652.0H1130.7ZM2118.8 1634.7H2272.5V1652.0H2118.8ZM1147.7 1651.7H1233.2V1669.0H1147.7ZM1318.1 1651.7H1335.4V1669.0H1318.1ZM2118.8 1651.7H2272.5V1669.0H2118.8ZM1147.7 1668.7H1233.2V1686.0H1147.7ZM1301.0 1668.7H1318.4V1686.0H1301.0ZM2135.9 1668.7H2238.4V1686.0H2135.9ZM2255.1 1668.7H2289.5V1686.0H2255.1ZM1164.8 1685.7H1267.3V1703.0H1164.8ZM2152.9 1685.7H2289.5V1703.0H2152.9ZM1164.8 1702.7H1301.3V1720.0H1164.8ZM2169.9 1702.7H2289.5V1720.0H2169.9ZM1164.8 1719.7H1250.2V1736.9H1164.8ZM1284.0 1719.7H1301.3V1736.9H1284.0ZM2187.0 1719.7H2272.5V1736.9H2187.0ZM1181.8 1736.6H1250.2V1753.9H1181.8ZM1284.0 1736.6H1301.3V1753.9H1284.0ZM2221.0 1736.6H2272.5V1753.9H2221.0ZM1181.8 1753.6H1199.1V1770.9H1181.8ZM2221.0 1753.6H2272.5V1770.9H2221.0ZM2169.9 1770.6H2187.3V1787.9H2169.9ZM2204.0 1770.6H2221.3V1787.9H2204.0Z" fill="#a7d0e4" shape-rendering="crispEdges"/>
<path d="M432.2 309.9H449.5V327.2H432.2ZM415.1 326.9H466.5V344.2H415.1ZM415.1 343.9H483.6V361.2H415.1ZM415.1 360.9H483.6V378.1H415.1ZM2527.7 360.9H2545.0V378.1H2527.7ZM415.1 377.8H466.5V395.1H415.1ZM2510.7 377.8H2579.1V395.1H2510.7ZM398.1 394.8H466.5V412.1H398.1ZM2510.7 394.8H2596.2V412.1H2510.7ZM398.1 411.8H449.5V429.1H398.1ZM2510.7 411.8H2596.2V429.1H2510.7ZM381.1 428.8H432.5V446.1H381.1ZM2510.7 428.8H2528.0V446.1H2510.7ZM2493.6 496.7H2511.0V514.0H2493.6ZM2476.6 513.7H2493.9V531.0H2476.6ZM2357.3 530.7H2374.7V548.0H2357.3ZM2442.5 530.7H2493.9V548.0H2442.5ZM2357.3 547.7H2391.7V565.0H2357.3ZM2442.5 547.7H2493.9V565.0H2442.5ZM2357.3 564.7H2391.7V582.0H2357.3ZM2459.6 564.7H2476.9V582.0H2459.6ZM2357.3 581.7H2374.7V598.9H2357.3ZM2476.6 581.7H2493.9V598.9H2476.6ZM2357.3 598.6H2374.7V615.9H2357.3ZM2476.6 598.6H2493.9V615.9H2476.6ZM91.4 615.6H108.8V632.9H91.4ZM91.4 632.6H108.8V649.9H91.4ZM74.4 649.6H91.7V666.9H74.4ZM2187.0 683.6H2221.3V700.9H2187.0ZM2152.9 700.6H2238.4V717.8H2152.9ZM2118.8 717.5H2289.5V734.8H2118.8ZM2118.8 734.5H2289.5V751.8H2118.8ZM74.4 751.5H91.7V768.8H74.4ZM2118.8 751.5H2306.5V768.8H2118.8ZM74.4 768.5H91.7V785.8H74.4ZM142.5 768.5H193.9V785.8H142.5ZM2101.8 768.5H2289.5V785.8H2101.8ZM159.6 785.5H193.9V802.8H159.6ZM1744.0 785.5H1761.3V802.8H1744.0ZM1778.1 785.5H1795.4V802.8H1778.1ZM2101.8 785.5H2272.5V802.8H2101.8ZM1198.8 802.5H1216.2V819.7H1198.8ZM1727.0 802.5H1795.4V819.7H1727.0ZM2084.8 802.5H2238.4V819.7H2084.8ZM1181.8 819.4H1216.2V836.7H1181.8ZM1709.9 819.4H1812.5V836.7H1709.9ZM2084.8 819.4H2221.3V836.7H2084.8ZM1198.8 836.4H1216.2V853.7H1198.8ZM1692.9 836.4H1795.4V853.7H1692.9ZM2067.7 836.4H2204.3V853.7H2067.7ZM1692.9 853.4H1795.4V870.7H1692.9ZM2101.8 853.4H2136.2V870.7H2101.8ZM176.6 870.4H193.9V887.7H176.6ZM1692.9 870.4H1846.5V887.7H1692.9ZM176.6 887.4H211.0V904.7H176.6ZM1284.0 887.4H1318.4V904.7H1284.0ZM1709.9 887.4H1846.5V904.7H1709.9ZM176.6 904.4H228.0V921.7H176.6ZM1232.9 904.4H1318.4V921.7H1232.9ZM1675.9 904.4H1897.6V921.7H1675.9ZM176.6 921.4H228.0V938.6H176.6ZM1164.8 921.4H1335.4V938.6H1164.8ZM1675.9 921.4H1914.7V938.6H1675.9ZM159.6 938.3H228.0V955.6H159.6ZM1130.7 938.3H1335.4V955.6H1130.7ZM1658.8 938.3H1812.5V955.6H1658.8ZM1829.2 938.3H1931.7V955.6H1829.2ZM108.5 955.3H176.9V972.6H108.5ZM193.6 955.3H228.0V972.6H193.6ZM1130.7 955.3H1301.3V972.6H1130.7ZM1658.8 955.3H1778.4V972.6H1658.8ZM1795.1 955.3H1812.5V972.6H1795.1ZM1863.3 955.3H1931.7V972.6H1863.3ZM125.5 972.3H176.9V989.6H125.5ZM1130.7 972.3H1233.2V989.6H1130.7ZM1658.8 972.3H1778.4V989.6H1658.8ZM1829.2 972.3H1846.5V989.6H1829.2ZM1897.3 972.3H1948.8V989.6H1897.3ZM125.5 989.3H159.9V1006.6H125.5ZM210.7 989.3H228.0V1006.6H210.7ZM1130.7 989.3H1199.1V1006.6H1130.7ZM1658.8 989.3H1795.4V1006.6H1658.8ZM1829.2 989.3H1846.5V1006.6H1829.2ZM1931.4 989.3H1948.8V1006.6H1931.4ZM125.5 1006.3H159.9V1023.6H125.5ZM244.8 1006.3H262.1V1023.6H244.8ZM1130.7 1006.3H1165.1V1023.6H1130.7ZM1658.8 1006.3H1863.6V1023.6H1658.8ZM1130.7 1023.3H1148.0V1040.6H1130.7ZM1675.9 1023.3H1863.6V1040.6H1675.9ZM125.5 1040.3H142.8V1057.5H125.5ZM1505.5 1040.3H1522.8V1057.5H1505.5ZM1675.9 1040.3H1880.6V1057.5H1675.9ZM1522.5 1057.2H1573.9V1074.5H1522.5ZM1675.9 1057.2H1880.6V1074.5H1675.9ZM1505.5 1074.2H1573.9V1091.5H1505.5ZM1675.9 1074.2H1880.6V1091.5H1675.9ZM1284.0 1091.2H1352.5V1108.5H1284.0ZM1505.5 1091.2H1625.1V1108.5H1505.5ZM1658.8 1091.2H1778.4V1108.5H1658.8ZM1795.1 1091.2H1880.6V1108.5H1795.1ZM1284.0 1108.2H1471.7V1125.5H1284.0ZM1505.5 1108.2H1744.3V1125.5H1505.5ZM1846.2 1108.2H1863.6V1125.5H1846.2ZM1267.0 1125.2H1744.3V1142.5H1267.0ZM2169.9 1125.2H2221.3V1142.5H2169.9ZM1249.9 1142.2H1727.3V1159.5H1249.9ZM2152.9 1142.2H2221.3V1159.5H2152.9ZM1249.9 1159.2H1727.3V1176.4H1249.9ZM2152.9 1159.2H2221.3V1176.4H2152.9ZM1232.9 1176.1H1727.3V1193.4H1232.9ZM2135.9 1176.1H2238.4V1193.4H2135.9ZM1232.9 1193.1H1710.2V1210.4H1232.9ZM2135.9 1193.1H2238.4V1210.4H2135.9ZM1198.8 1210.1H1539.9V1227.4H1198.8ZM1556.6 1210.1H1710.2V1227.4H1556.6ZM2152.9 1210.1H2238.4V1227.4H2152.9ZM1198.8 1227.1H1522.8V1244.4H1198.8ZM1556.6 1227.1H1693.2V1244.4H1556.6ZM1215.9 1244.1H1727.3V1261.4H1215.9ZM1215.9 1261.1H1744.3V1278.3H1215.9ZM1267.0 1278.0H1744.3V1295.3H1267.0ZM2016.6 1278.0H2033.9V1295.3H2016.6ZM1284.0 1295.0H1795.4V1312.3H1284.0ZM1829.2 1295.0H1846.5V1312.3H1829.2ZM1897.3 1295.0H1914.7V1312.3H1897.3ZM2016.6 1295.0H2033.9V1312.3H2016.6ZM1301.0 1312.0H1829.5V1329.3H1301.0ZM1863.3 1312.0H1914.7V1329.3H1863.3ZM1318.1 1329.0H1931.7V1346.3H1318.1ZM1982.5 1329.0H2033.9V1346.3H1982.5ZM1318.1 1346.0H1897.6V1363.3H1318.1ZM2016.6 1346.0H2033.9V1363.3H2016.6ZM1335.1 1363.0H1880.6V1380.3H1335.1ZM1318.1 1380.0H1846.5V1397.2H1318.1ZM1318.1 1396.9H1403.6V1414.2H1318.1ZM1420.3 1396.9H1812.5V1414.2H1420.3ZM1318.1 1413.9H1369.5V1431.2H1318.1ZM1420.3 1413.9H1505.8V1431.2H1420.3ZM1556.6 1413.9H1795.4V1431.2H1556.6ZM1301.0 1430.9H1352.5V1448.2H1301.0ZM1437.3 1430.9H1488.8V1448.2H1437.3ZM1556.6 1430.9H1710.2V1448.2H1556.6ZM1284.0 1447.9H1352.5V1465.2H1284.0ZM1437.3 1447.9H1471.7V1465.2H1437.3ZM1539.6 1447.9H1676.2V1465.2H1539.6ZM1897.3 1447.9H1914.7V1465.2H1897.3ZM1267.0 1464.9H1335.4V1482.2H1267.0ZM1420.3 1464.9H1437.6V1482.2H1420.3ZM1556.6 1464.9H1659.1V1482.2H1556.6ZM1249.9 1481.9H1352.5V1499.1H1249.9ZM1556.6 1481.9H1659.1V1499.1H1556.6ZM1863.3 1481.9H1880.6V1499.1H1863.3ZM1897.3 1481.9H1914.7V1499.1H1897.3ZM1249.9 1498.8H1403.6V1516.1H1249.9ZM1556.6 1498.8H1625.1V1516.1H1556.6ZM1249.9 1515.8H1454.7V1533.1H1249.9ZM1573.6 1515.8H1625.1V1533.1H1573.6ZM1249.9 1532.8H1454.7V1550.1H1249.9ZM1556.6 1532.8H1573.9V1550.1H1556.6ZM1232.9 1549.8H1471.7V1567.1H1232.9ZM1249.9 1566.8H1437.6V1584.1H1249.9ZM1232.9 1583.8H1386.5V1601.1H1232.9ZM1232.9 1600.8H1369.5V1618.0H1232.9ZM1215.9 1617.7H1369.5V1635.0H1215.9ZM1215.9 1634.7H1352.5V1652.0H1215.9ZM1232.9 1651.7H1318.4V1669.0H1232.9ZM1232.9 1668.7H1301.3V1686.0H1232.9ZM1267.0 1685.7H1301.3V1703.0H1267.0ZM1249.9 1719.7H1284.3V1736.9H1249.9ZM1249.9 1736.6H1284.3V1753.9H1249.9ZM1198.8 1753.6H1301.3V1770.9H1198.8ZM1215.9 1770.6H1301.3V1787.9H1215.9ZM1267.0 1787.6H1301.3V1804.9H1267.0Z" fill="#529dc8" shape-rendering="crispEdges"/>
<path d="M772.9 309.9H824.3V327.2H772.9ZM755.9 326.9H858.4V344.2H755.9ZM755.9 343.9H858.4V361.2H755.9ZM755.9 360.9H858.4V378.1H755.9ZM755.9 377.8H841.3V395.1H755.9ZM755.9 394.8H824.3V412.1H755.9ZM738.8 411.8H790.2V429.1H738.8ZM807.0 411.8H841.3V429.1H807.0ZM858.1 411.8H875.4V429.1H858.1ZM738.8 428.8H807.3V446.1H738.8ZM721.8 445.8H773.2V463.1H721.8ZM704.8 462.8H807.3V480.1H704.8ZM824.0 462.8H841.3V480.1H824.0ZM687.7 479.8H858.4V497.0H687.7ZM193.6 496.7H228.0V514.0H193.6ZM670.7 496.7H875.4V514.0H670.7ZM176.6 513.7H228.0V531.0H176.6ZM653.6 513.7H892.5V531.0H653.6ZM159.6 530.7H211.0V548.0H159.6ZM619.6 530.7H875.4V548.0H619.6ZM142.5 547.7H211.0V565.0H142.5ZM619.6 547.7H875.4V565.0H619.6ZM1011.4 547.7H1045.8V565.0H1011.4ZM159.6 564.7H193.9V582.0H159.6ZM602.5 564.7H875.4V582.0H602.5ZM1011.4 564.7H1062.8V582.0H1011.4ZM159.6 581.7H176.9V598.9H159.6ZM585.5 581.7H875.4V598.9H585.5ZM977.3 581.7H1079.9V598.9H977.3ZM585.5 598.6H892.5V615.9H585.5ZM977.3 598.6H1062.8V615.9H977.3ZM568.5 615.6H892.5V632.9H568.5ZM943.3 615.6H1062.8V632.9H943.3ZM568.5 632.6H1011.7V649.9H568.5ZM534.4 649.6H994.7V666.9H534.4ZM534.4 666.6H994.7V683.9H534.4ZM500.3 683.6H994.7V700.9H500.3ZM449.2 700.6H994.7V717.8H449.2ZM432.2 717.5H977.6V734.8H432.2ZM432.2 734.5H568.8V751.8H432.2ZM653.6 734.5H977.6V751.8H653.6ZM432.2 751.5H568.8V768.8H432.2ZM653.6 751.5H994.7V768.8H653.6ZM261.8 768.5H296.2V785.8H261.8ZM312.9 768.5H330.2V785.8H312.9ZM432.2 768.5H517.6V785.8H432.2ZM670.7 768.5H977.6V785.8H670.7ZM244.8 785.5H347.3V802.8H244.8ZM449.2 785.5H483.6V802.8H449.2ZM704.8 785.5H977.6V802.8H704.8ZM244.8 802.5H364.3V819.7H244.8ZM721.8 802.5H994.7V819.7H721.8ZM244.8 819.4H381.4V836.7H244.8ZM721.8 819.4H994.7V836.7H721.8ZM244.8 836.4H398.4V853.7H244.8ZM551.4 836.4H568.8V853.7H551.4ZM738.8 836.4H977.6V853.7H738.8ZM312.9 853.4H398.4V870.7H312.9ZM551.4 853.4H568.8V870.7H551.4ZM841.0 853.4H977.6V870.7H841.0ZM312.9 870.4H415.4V887.7H312.9ZM551.4 870.4H568.8V887.7H551.4ZM841.0 870.4H858.4V887.7H841.0ZM892.2 870.4H960.6V887.7H892.2ZM312.9 887.4H398.4V904.7H312.9ZM551.4 887.4H568.8V904.7H551.4ZM312.9 904.4H398.4V921.7H312.9ZM329.9 921.4H347.3V938.6H329.9ZM943.3 921.4H960.6V938.6H943.3ZM943.3 938.3H977.6V955.6H943.3ZM432.2 955.3H500.6V972.6H432.2ZM892.2 955.3H909.5V972.6H892.2ZM926.2 955.3H1011.7V972.6H926.2ZM398.1 972.3H517.6V989.6H398.1ZM892.2 972.3H1028.8V989.6H892.2ZM398.1 989.3H551.7V1006.6H398.1ZM875.1 989.3H1045.8V1006.6H875.1ZM364.0 1006.3H381.4V1023.6H364.0ZM398.1 1006.3H551.7V1023.6H398.1ZM875.1 1006.3H1045.8V1023.6H875.1ZM415.1 1023.3H517.6V1040.6H415.1ZM875.1 1023.3H1028.8V1040.6H875.1ZM449.2 1040.3H517.6V1057.5H449.2ZM892.2 1040.3H1028.8V1057.5H892.2ZM449.2 1057.2H466.5V1074.5H449.2ZM483.3 1057.2H500.6V1074.5H483.3ZM909.2 1057.2H1028.8V1074.5H909.2ZM909.2 1074.2H1011.7V1091.5H909.2ZM926.2 1091.2H1028.8V1108.5H926.2ZM909.2 1108.2H1011.7V1125.5H909.2ZM892.2 1125.2H977.6V1142.5H892.2ZM1045.5 1125.2H1062.8V1142.5H1045.5ZM892.2 1142.2H960.6V1159.5H892.2ZM1062.5 1142.2H1113.9V1159.5H1062.5ZM892.2 1159.2H926.5V1176.4H892.2ZM1045.5 1159.2H1113.9V1176.4H1045.5ZM1062.5 1176.1H1079.9V1193.4H1062.5ZM1709.9 1566.8H1761.3V1584.1H1709.9ZM1727.0 1583.8H1744.3V1601.1H1727.0ZM2238.1 1668.7H2255.4V1686.0H2238.1ZM2135.9 1770.6H2153.2V1787.9H2135.9Z" fill="#e1edf3" shape-rendering="crispEdges"/>
<path d="M236.6 191.3L252.8 205.0L265.4 215.1L280.4 223.1L291.6 222.6L294.1 215.1L300.4 195.0L304.2 182.5L312.9 182.5L322.9 188.0M250.3 346.0L256.6 352.7L257.8 367.8L256.6 381.5L265.4 387.8L277.9 393.5L292.9 391.5L307.9 395.3L317.9 404.8L335.4 407.3L358.0 410.3L375.5 409.1L395.5 409.8L405.5 412.3L413.1 410.8L440.6 419.1L468.1 426.6L498.2 434.6M540.7 259.6L499.4 411.6L500.7 422.8L498.2 434.6M498.2 434.6L501.9 444.1L509.4 454.1L508.2 464.1L498.2 477.9L485.6 492.9L470.6 510.5L460.6 524.2L461.9 533.0L469.4 540.5L468.1 544.0M579.5 271.4L573.3 295.2L567.0 320.2L564.5 327.7L569.5 340.2L572.0 360.3L575.8 370.3L585.8 382.8L593.3 402.8L599.6 414.1L608.3 422.8L616.1 425.3M616.1 440.4L605.8 445.4L600.8 465.4L593.3 474.2L590.8 482.9L597.0 491.7L608.3 490.4L616.1 484.2M119.7 568.8L175.2 590.1L250.3 617.6L296.6 630.1M296.6 630.1L363.0 651.4L428.1 668.9L500.7 688.9L559.5 704.0L616.1 715.2M296.6 630.1L244.1 805.4L311.7 914.0M470.6 540.0L456.9 565.0L428.1 668.9M559.5 704.0L510.7 914.0M269.1 1229.2L391.8 1250.5L385.5 1260.5L423.1 1284.0M306.7 910.0L430.6 1110.3M430.6 1110.3L439.3 1090.2L441.8 1052.7L448.1 1046.4L458.1 1046.4L467.6 1056.4L478.1 1047.7L490.7 1002.6L511.9 910.0M490.7 1001.4L616.1 1027.7M430.6 1110.3L434.3 1127.8L438.1 1147.8L448.1 1156.6L430.6 1170.3L423.1 1185.4L418.1 1200.4L403.0 1211.7L401.8 1225.4L410.5 1235.4L406.8 1248.0L391.8 1250.5M423.0 1284.0L566.7 1376.7L716.0 1401.7L721.7 1376.0L806.7 1386.7L813.3 1390.0L821.7 1403.3L841.7 1426.7L860.0 1450.0L880.0 1465.0L888.3 1476.7L893.3 1496.7L895.0 1516.7L900.0 1530.0L921.0 1553.3M806.7 1386.7L803.3 1374.0L921.0 1387.3M694.0 1270.0L672.7 1395.0M921.0 1553.3L941.0 1564.7L957.7 1578.0L967.7 1581.3L976.0 1578.0L987.7 1564.7L996.0 1544.7L1009.3 1536.3L1024.3 1532.3L1034.3 1537.0L1067.7 1542.3L1077.7 1554.7L1094.3 1568.0L1109.3 1586.3L1112.7 1601.3L1121.0 1619.7L1127.7 1638.0L1141.0 1654.7L1152.7 1673.0L1166.0 1683.0L1169.3 1693.0L1168.3 1706.3L1171.0 1721.3L1179.3 1731.3L1184.3 1749.7L1191.0 1761.3L1204.3 1766.3L1221.0 1774.7L1237.7 1783.7L1261.0 1788.0L1281.0 1798.0L1291.0 1794.7L1300.3 1789.7M1950.0 1091.7L1980.0 1085.0L2066.7 1072.3L2076.7 1071.0L2183.3 1051.7L2283.3 1030.0L2351.7 1016.0M2021.7 1180.0L2056.7 1160.7L2121.7 1153.3L2136.7 1160.0L2141.7 1170.0L2196.7 1161.7L2261.7 1204.0M2076.7 1071.0L2078.3 1083.3L2065.0 1100.0L2058.3 1103.3L2040.0 1115.0L2031.7 1113.3L2021.7 1123.3L2000.0 1143.3L1981.7 1150.0L1973.3 1158.3L1961.7 1173.3L1961.7 1186.7M2021.7 1180.0L2011.7 1198.3L2028.3 1208.3L2038.3 1211.7L2056.7 1233.3L2083.3 1253.3L2095.0 1261.7L2105.0 1276.7L2120.0 1285.0L2131.7 1305.0L2143.3 1315.0L2151.7 1331.7L2156.7 1338.3L2166.7 1340.0M1980.0 1085.0L2000.0 1073.3L2023.3 1045.0L2046.7 1025.0L2050.0 1016.7M2336.4 712.6L2332.7 727.6L2326.4 741.4L2330.2 750.1L2327.7 760.2L2332.7 768.9L2345.2 777.7L2356.5 787.7L2350.2 795.2L2346.4 800.2M2317.7 830.3L2322.7 847.8L2328.9 865.3L2333.9 885.3L2337.7 897.8L2365.2 892.8M2200.0 852.8L2220.0 854.0L2227.5 861.5L2231.3 870.3L2230.0 882.8M2200.0 867.8L2227.5 880.3M2231.3 869.1L2242.6 871.6L2247.6 880.3L2267.6 881.6L2275.1 886.6M2380.2 640.0L2384.0 665.0L2390.3 697.6L2395.3 706.3L2390.3 715.1L2391.5 722.6M2384.0 658.8L2412.8 652.5L2455.3 641.3M2457.8 645.0L2462.9 662.5L2467.9 677.6M2477.9 640.0L2480.4 650.0M2250.0 476.5L2265.0 465.2L2277.5 462.2L2286.3 464.0L2287.6 480.3M2250.0 531.6L2257.5 520.3L2273.8 504.0L2282.5 501.5M2282.5 501.5L2337.6 485.3L2414.0 462.7M2414.0 462.7L2415.2 445.2L2425.2 441.5L2435.2 437.7L2441.5 425.2L2439.0 417.7L2447.8 405.2L2449.0 390.1L2444.0 372.6L2446.5 357.6L2444.0 340.1L2450.3 322.5L2457.8 300.0L2461.5 290.0M2461.5 290.0L2470.3 297.5L2477.8 301.3L2485.3 297.5L2494.1 290.0M2522.9 290.0L2525.4 293.8L2535.4 322.5L2544.1 345.1L2550.4 362.6L2552.9 370.1L2560.4 372.6L2567.9 368.9L2572.9 380.1L2577.9 390.1L2582.9 396.4L2586.7 392.6M2338.9 487.8L2342.6 502.8L2350.1 520.3L2352.6 540.3L2356.4 555.4L2360.1 567.9L2366.4 566.6L2370.2 580.4L2375.2 597.9L2378.9 612.9M2414.0 462.7L2415.2 480.3L2421.5 487.8L2417.7 500.3L2406.5 509.0L2409.0 527.8L2406.5 550.3L2405.2 565.4L2409.0 585.4L2410.2 600.4L2414.0 606.7M2429.0 442.7L2435.2 460.2L2442.8 480.3L2450.3 500.3L2457.8 520.3L2465.3 540.3L2470.3 550.3L2477.8 556.6M2378.9 615.4L2414.0 606.7L2464.0 594.2L2471.5 585.4L2479.1 577.9M2381.4 615.4L2381.4 664.0M2385.2 658.0L2457.8 639.2L2474.0 635.0L2479.1 643.0M2455.3 640.5L2462.8 664.0M2461.5 290.2L2470.3 292.2L2472.8 298.9L2477.8 302.2L2485.3 298.2L2500.3 284.7L2512.9 287.7L2524.1 292.7M2545.4 225.1L2540.4 233.8L2530.4 238.8L2521.6 242.6L2511.6 237.6L2500.3 242.6L2486.6 250.1L2487.8 262.6L2491.6 272.6L2487.8 281.4L2480.3 288.9L2471.5 292.7M2680.6 320.2L2691.8 305.2L2693.6 300.2M633.3 181.7L643.3 186.7L649.3 201.7L648.3 223.3L640.0 248.3L645.0 263.3L656.7 276.7L657.3 287.3M843.3 179.3L817.3 321.7M1163.3 179.3L1160.0 366.7M1408.3 179.3L1408.3 351.7M1053.3 357.7L1046.7 436.7L1036.7 540.0L1028.3 598.3L1020.7 668.0M1326.7 374.0L1329.3 403.3L1330.0 426.7L1338.3 456.7L1340.7 486.7L1341.7 516.7L1350.0 540.0L1350.7 558.3L1348.3 568.3L1337.3 578.3L1343.3 590.0L1355.0 598.3L1355.0 668.0M1036.7 540.7L1166.7 553.3L1266.7 557.3L1350.0 559.0M728.3 553.3L833.3 571.7L933.3 586.7L1028.3 597.3M728.3 553.3L719.3 579.3L716.7 603.3L706.0 668.0M600.0 415.0L615.0 425.0L606.7 446.7L600.0 466.7M600.0 491.7L613.3 483.3L620.7 491.7L621.7 513.3L626.7 533.3L636.7 548.3L641.7 570.0L650.0 568.3L670.0 567.3L686.7 572.7L703.3 575.0L706.7 566.7L715.0 566.7L719.3 579.3M1408.3 374.7L1409.3 351.7L1420.0 353.3L1421.7 370.0L1428.3 388.3L1443.3 392.7L1458.3 396.7L1468.3 401.7L1486.7 395.0L1503.3 398.3L1515.0 406.7L1521.7 416.0L1533.3 410.7L1546.7 420.0L1560.0 426.7L1570.0 423.3L1580.0 416.7L1590.0 421.7L1616.7 420.7L1626.7 426.7L1640.0 425.0L1648.3 416.7M1648.3 416.7L1666.7 406.7L1683.3 403.3L1733.3 425.0L1783.3 448.3L1833.3 470.0L1846.7 483.3L1860.0 491.7L1870.0 495.0L1873.3 506.7L1886.7 516.7L1906.7 523.3L1920.0 536.7L1946.7 550.0L1956.7 570.0L1963.3 593.3L1973.3 620.0L1981.7 646.7L1986.7 668.0M1720.0 621.7L1728.3 616.7L1736.7 603.3L1745.0 586.7L1750.0 573.3L1746.7 568.3M1725.0 628.3L1735.0 615.0L1746.7 600.0L1756.7 583.3L1761.7 575.0M2006.7 183.3L2013.3 213.3L2023.3 270.0L2033.3 320.0L2043.3 370.0L2050.0 400.0L2058.3 420.0L2073.3 436.7L2091.7 456.7L2110.0 461.7L2143.3 461.7L2156.7 466.7L2170.0 475.0L2180.0 473.3L2188.3 481.7L2198.3 488.3L2210.0 490.0L2221.0 485.0M1533.3 511.7L1530.0 520.0L1530.0 546.7L1516.7 556.7L1506.7 575.0L1515.0 586.7L1511.7 603.3L1513.3 626.7L1526.7 640.0L1543.3 650.0L1563.3 668.0M1608.3 515.0L1620.0 528.3L1653.3 535.0L1676.7 541.7L1700.0 543.3L1713.3 553.3L1723.3 563.3L1723.3 575.0L1731.7 586.7L1735.0 595.0L1725.0 606.7L1720.0 621.7M1976.7 686.0L1976.7 713.3L1968.3 716.7M1973.3 730.7L1965.0 746.7L1953.3 756.7M2120.0 643.3L2121.7 656.7L2133.3 663.3L2135.0 671.7M1966.7 755.0L1976.7 773.3L2000.0 763.3L2033.3 743.3L2066.7 720.0L2100.0 700.0L2126.7 676.7L2135.0 671.7M2120.0 643.3L2133.3 636.7L2166.7 623.3L2200.0 610.0L2223.3 600.0L2233.3 580.0L2240.0 570.0M1756.7 793.3L1761.7 813.3L1766.7 893.3L1771.7 936.7L1768.3 953.3L1775.0 970.0L1773.3 990.0L1760.0 1006.7L1756.7 1023.3L1760.0 1040.0L1753.3 1058.0M1793.3 791.7L1881.7 781.7L1945.0 773.3M1881.7 781.7L1893.3 860.0L1901.7 940.0M1756.7 1040.0L1770.0 1031.7L1786.7 1028.3L1800.0 1032.7L1813.3 1023.3L1826.7 1021.7L1836.7 1010.0L1846.7 1016.7L1856.7 1013.3L1863.3 996.7L1876.7 970.0L1890.0 968.3L1905.0 958.3L1901.7 941.7L1920.0 941.7L1933.3 955.0L1946.7 956.7L1958.3 961.7L1966.7 958.3L1976.7 960.0L1995.0 953.3L2005.0 963.3L2015.0 968.3L2023.3 966.7L2030.0 956.7L2030.0 940.0L2036.7 928.3L2045.0 930.0L2053.3 906.7L2066.7 898.3L2080.0 886.7L2083.3 873.3L2085.0 846.7L2088.3 833.3L2081.7 823.3M2071.7 736.7L2080.0 786.7L2088.3 833.3L2096.7 873.3M2096.7 873.3L2146.7 865.0L2200.0 853.3L2266.7 836.7L2316.7 823.3L2326.7 815.0M2103.3 726.7L2116.7 726.7L2200.0 706.7L2266.7 691.7L2296.7 686.0L2306.7 688.3L2316.7 698.3L2321.7 708.3L2333.3 713.3L2380.0 725.0M2016.7 968.3L2015.0 983.3L2028.3 1000.0L2043.3 1013.3L2051.7 1016.7L2061.7 1030.0L2073.3 1033.3L2083.3 1026.7L2093.3 1023.3L2106.7 1016.7L2123.3 1008.3L2133.3 1003.3L2133.3 991.7L2140.0 976.7L2146.7 953.3L2153.3 933.3L2166.7 938.3L2173.3 935.0L2178.3 915.0L2196.7 896.7L2203.3 876.7L2203.3 868.3M2146.7 865.0L2150.0 890.0L2156.7 890.0L2166.7 876.7L2180.0 865.0L2196.7 863.3L2203.3 868.3L2216.7 875.0L2230.0 881.7L2230.0 870.0L2220.0 855.0M2230.0 870.0L2250.0 880.0L2266.7 885.0L2275.0 888.3M708.3 660.0L690.0 730.0L682.7 791.7M600.0 710.0L690.0 730.7M682.7 791.7L771.7 809.3L866.7 823.3L933.3 833.3L1001.7 840.0L1093.3 849.3M771.7 809.3L763.3 860.0L750.0 943.3L731.7 1048.3L713.3 1158.0M1021.7 660.0L1016.0 719.3L1001.7 840.0M1016.0 719.3L1100.0 725.0L1200.0 733.3L1263.3 736.7L1276.7 746.0L1286.7 747.3L1300.0 745.0L1313.3 746.0L1330.0 755.0L1345.0 763.3M1093.3 849.3L1090.0 910.0L1085.0 960.0L1080.0 1026.7L1075.0 1093.3M1090.0 910.0L1200.0 916.7L1300.0 921.7L1400.0 921.7M600.0 1023.3L731.7 1048.3L833.3 1065.0L933.3 1078.3L1026.7 1088.3L1075.0 1092.7L1200.0 1100.7L1300.0 1104.0L1421.0 1105.0M1026.7 1088.3L1023.3 1120.0L1173.3 1130.0L1171.7 1158.0M1023.3 1120.0L1018.3 1158.0M1345.0 763.3L1350.0 770.0L1356.7 786.7L1365.0 800.0L1368.3 823.3L1376.7 833.3L1380.0 853.3L1378.3 876.7L1386.7 890.0L1388.3 900.0L1396.7 908.3L1400.0 921.7L1413.3 930.0L1421.0 936.7M1354.0 660.0L1352.7 708.3L1421.0 708.3M1352.7 708.3L1346.7 713.3L1351.7 730.0L1345.0 750.0L1345.0 763.3M1386.7 885.0L1421.0 885.0M1416.7 940.0L1415.0 950.0L1421.0 960.0M1380.0 709.3L1580.0 703.3M1553.3 660.0L1576.7 673.3L1581.7 693.3L1584.0 706.7L1590.0 720.0L1591.7 740.0L1600.0 748.3L1610.0 753.3L1616.0 763.3L1626.7 773.3L1638.3 785.0L1636.7 800.0L1628.3 816.7L1613.3 825.0L1600.0 833.3L1603.3 850.0L1598.3 866.7L1586.7 883.3L1583.3 900.0L1584.0 916.7L1590.0 933.3L1606.7 946.7L1620.0 961.7L1626.7 976.7L1636.7 980.0L1651.7 983.3L1646.7 1003.3L1643.3 1020.0L1653.3 1033.3L1670.0 1041.7L1685.0 1053.3L1690.0 1076.7L1695.0 1088.3L1708.3 1093.3L1710.0 1106.7L1705.0 1118.3L1693.3 1125.0L1686.7 1140.0L1683.3 1158.0M1616.0 761.7L1743.3 752.7M1380.0 885.7L1480.0 881.7L1570.0 879.3L1580.0 890.0L1584.0 893.3M1380.0 850.0L1381.7 873.3L1386.7 893.3L1396.7 908.3L1400.0 923.3L1423.3 931.7L1415.0 950.0L1426.7 966.7L1436.7 975.0L1438.3 1060.0L1439.3 1136.7L1441.7 1158.0M1380.0 921.7L1400.0 923.3M1439.3 1136.7L1546.7 1132.7L1656.7 1127.7L1663.3 1133.3L1658.3 1146.7L1651.7 1158.0M1380.0 1105.0L1438.3 1106.0M1690.0 1125.0L1756.7 1120.0L1763.3 1111.7L1780.0 1108.3L1880.0 1096.7L1950.0 1089.3M1756.7 1036.7L1755.0 1056.7L1741.7 1065.0L1736.7 1076.7L1741.7 1085.0L1720.0 1080.7L1710.0 1085.0L1708.3 1093.3M1441.7 1150.0L1448.3 1183.3L1449.0 1233.3L1448.3 1310.0M1380.0 1296.7L1390.0 1294.0L1400.0 1298.3L1410.0 1293.3L1423.3 1301.7L1435.0 1310.0L1448.3 1313.3L1458.3 1315.0L1470.7 1316.7M1470.7 1316.7L1471.7 1350.0L1471.7 1410.0L1480.0 1420.0L1486.7 1436.7L1493.3 1453.3L1501.7 1471.7L1495.0 1493.3L1491.7 1513.3L1491.7 1530.0L1486.0 1541.7L1481.7 1553.3M1471.7 1350.7L1546.7 1348.3L1621.7 1345.0M1690.0 1150.0L1685.0 1161.7L1673.3 1180.0L1668.3 1200.0L1661.7 1216.7L1650.0 1233.3L1646.7 1250.0L1636.7 1263.3L1630.0 1278.3L1625.0 1283.3L1620.0 1300.0L1618.3 1310.0L1621.7 1323.3L1625.0 1331.7L1621.7 1345.0L1625.0 1363.3L1626.7 1376.7L1635.0 1385.0L1630.0 1400.0L1620.0 1413.3L1613.3 1423.3L1608.3 1440.0L1606.7 1456.7L1601.7 1471.7L1653.3 1468.3L1701.7 1465.0L1705.0 1471.7L1701.7 1483.3L1708.3 1495.0L1715.0 1508.3L1716.7 1513.3M1651.7 1158.3L1685.0 1156.7L1686.7 1150.0M1661.7 1220.0L1713.3 1215.0L1770.0 1211.0L1846.7 1203.3L1895.0 1198.3L1963.3 1188.3L2021.7 1180.7M1770.0 1211.0L1771.7 1283.3L1768.3 1350.0L1768.3 1410.0L1773.3 1443.3L1778.3 1470.0L1780.0 1496.7M1895.0 1198.3L1906.7 1236.7L1921.7 1290.0L1936.7 1326.7L1951.7 1353.3L1953.3 1361.7L1946.7 1376.7L1945.0 1390.0L1951.7 1410.0L1953.3 1426.7L1958.3 1438.3L1968.3 1455.0M1958.3 1439.3L1880.0 1449.3L1821.7 1456.0L1821.7 1465.0L1830.0 1473.3L1831.7 1490.0M1968.3 1456.0L2046.7 1450.0L2111.7 1445.0L2118.3 1455.0L2125.0 1450.0L2121.7 1430.0L2146.7 1427.3M715.0 1150.0L671.7 1395.0M1019.3 1150.0L1011.7 1216.7L1003.3 1310.0L993.3 1396.0M807.3 1386.7L803.3 1372.7L900.0 1385.0L993.3 1396.0M1171.7 1150.0L1168.3 1200.0L1165.0 1246.7L1180.0 1260.0L1196.7 1260.0L1205.0 1265.0L1206.7 1273.3L1223.3 1276.7L1243.3 1281.7L1261.7 1280.0L1265.0 1290.0L1273.3 1296.7L1283.3 1290.0L1300.0 1298.3L1311.7 1305.0L1320.0 1293.3L1333.3 1296.7L1353.3 1308.3L1366.7 1300.0L1383.3 1296.7L1400.0 1298.3L1413.3 1293.3L1421.0 1296.7M2221.0 485.0L2236.0 478.0L2250.0 476.5" fill="none" stroke="#000" stroke-width="4.6" stroke-dasharray="6.8 4.25" stroke-linejoin="round"/>
<path d="M1648.3 416.7L1651.7 396.7L1663.3 390.0L1676.7 383.3L1678.3 370.0L1688.3 361.7L1706.7 365.0L1713.3 370.0L1730.0 369.3L1748.3 366.0L1760.0 368.3L1768.3 380.0L1773.3 393.3L1783.3 406.7L1798.3 411.7L1813.3 410.0L1830.0 410.0L1826.7 426.7L1833.3 436.7L1845.0 445.0L1841.7 460.0L1846.7 470.0L1859.3 471.7L1858.3 481.7L1848.3 491.7L1833.3 495.0L1831.7 481.7L1823.3 481.7L1800.0 488.3L1783.3 495.0L1770.0 503.3L1753.3 506.7L1736.7 503.3L1725.0 491.7L1711.7 485.0L1696.7 485.0L1691.7 491.7L1686.7 480.0L1690.0 470.0L1701.7 463.3L1713.3 453.3L1700.0 453.3L1690.0 460.0L1676.7 470.0L1666.7 481.7L1653.3 491.7L1633.3 498.3L1620.0 508.3L1608.3 515.0L1596.7 511.7L1590.0 503.3L1595.0 496.7L1606.7 488.3L1590.0 493.3L1576.7 498.3L1558.3 508.3L1540.0 510.0L1533.3 511.7L1546.7 500.0L1556.7 488.3L1573.3 471.7L1586.7 455.0L1603.3 443.3L1626.7 430.0L1648.3 416.7M1653.3 433.3L1663.3 423.3L1676.7 411.7L1681.7 403.3L1673.3 406.7L1660.0 416.7L1651.7 428.3L1653.3 433.3M1746.7 568.3L1756.7 543.3L1773.3 548.3L1788.3 536.7L1805.0 530.0L1820.0 523.3L1836.7 525.0L1848.3 531.7L1843.3 543.3L1840.0 553.3L1843.3 565.0L1830.0 570.0L1826.7 583.3L1823.3 600.0L1810.0 593.3L1800.0 603.3L1795.0 616.7L1795.0 636.7L1790.0 650.0L1793.3 668.0L1791.7 676.7L1800.0 696.7L1808.3 713.3L1811.7 726.7L1810.0 746.7L1803.3 766.7L1796.7 783.3L1786.7 793.3L1773.3 801.7L1761.7 800.0L1753.3 790.0L1745.0 773.3L1743.3 753.3L1740.0 733.3L1733.3 716.7L1731.7 706.7L1733.3 686.7L1736.7 660.0L1741.7 636.7L1746.7 610.0L1744.0 593.3L1754.0 603.3L1759.3 586.7L1763.3 576.0L1758.3 574.0L1746.7 568.3M1860.0 491.7L1866.7 490.0L1873.3 498.3L1890.0 503.3L1913.3 503.3L1933.3 501.7L1946.7 500.0L1966.7 501.7L1983.3 500.0L2000.0 503.3L2016.7 503.3L2026.7 510.0L2036.7 521.7L2050.0 530.0L2055.0 540.0L2060.0 551.7L2070.0 556.7L2075.0 565.0L2065.0 570.0L2063.3 583.3L2050.0 583.3L2036.7 578.3L2026.7 581.7L2020.0 570.0L2013.3 566.7L2010.0 556.7L2003.3 550.0L1990.0 550.0L1986.7 555.0L1996.7 560.0L2005.0 570.0L2010.0 586.7L2006.7 600.0L2000.0 606.7L1996.7 630.0L2000.0 650.0L2005.0 656.7L1996.7 673.3L1983.3 686.0L1976.7 686.0L1970.0 670.0L1963.3 653.3L1958.3 640.0L1948.3 631.7L1936.7 636.7L1928.3 650.0L1915.0 661.7L1905.0 660.0L1901.7 650.0L1906.7 640.0L1915.0 636.7L1918.3 623.3L1926.7 616.7L1925.0 600.0L1918.3 590.0L1916.7 573.3L1910.0 560.0L1896.7 555.0L1880.0 550.0L1866.7 540.0L1848.3 531.7L1846.7 523.3L1860.0 516.7L1870.0 503.3L1860.0 491.7M1883.3 510.0L1900.0 518.3L1920.0 520.0L1940.0 523.3L1960.0 530.0L1978.3 536.7L1983.3 523.3L1980.0 513.3L1966.7 508.3L1953.3 513.3L1940.0 516.7L1920.0 513.3L1900.0 511.7L1883.3 510.0M1950.0 760.0L1946.7 765.0L1953.3 773.3L1966.7 786.7L1976.7 788.3L1986.7 788.3L2000.0 783.3L2016.7 776.7L2033.3 766.7L2046.7 753.3L2063.3 741.7L2073.3 736.7L2086.7 726.7L2100.0 716.7L2113.3 703.3L2123.3 691.7L2130.0 680.0L2135.0 671.7L2128.3 666.7L2113.3 673.3L2093.3 681.7L2076.7 688.3L2070.0 700.0L2050.0 703.3L2033.3 703.3L2023.3 708.3L2013.3 720.0L2003.3 730.0L1990.0 740.0L1981.7 750.0L1966.7 755.0L1953.3 756.7L1950.0 760.0M2091.7 648.3L2096.7 633.3L2110.0 620.0L2126.7 610.0L2150.0 600.0L2173.3 590.0L2190.0 580.0L2200.0 575.0L2216.7 573.3L2228.3 563.3L2240.0 570.0L2240.0 586.7L2241.7 601.7L2230.0 615.0L2220.0 623.3L2196.7 630.0L2166.7 631.7L2146.7 635.0L2130.0 640.0L2120.0 643.3L2123.3 653.3L2118.3 656.7L2106.7 655.0L2095.0 653.3L2091.7 648.3" fill="none" stroke="#000" stroke-width="4.6" stroke-dasharray="5.0 6.05" stroke-linejoin="round"/>
<path d="M322.9 188.0L616.1 278.9M616.0 279.0L656.7 287.3L733.3 305.0L816.7 321.7L900.0 336.0L983.3 348.3L1053.3 357.7L1160.0 366.7L1266.7 372.0L1326.7 374.0L1408.3 374.7L1409.3 351.7L1421.0 352.7" fill="none" stroke="#000" stroke-width="4.6" stroke-dasharray="9.5 1.55" stroke-linejoin="round"/>
<path d="M215.8 327.2L232.8 330.2L241.6 336.5L244.1 342.7L250.3 346.0M217.3 334.0L235.3 339.0L241.6 345.2L250.3 346.5M304.2 240.1L305.4 252.6L297.9 257.6L287.9 263.9L275.4 275.1L274.1 279.6L285.4 277.6L275.4 290.2L274.1 292.7L282.9 295.2L286.6 298.9L292.9 293.9L300.4 291.4L306.7 286.4L309.2 275.1L314.2 260.1L322.9 252.6L320.4 242.6L312.9 245.1L309.2 237.6L315.4 230.1L322.9 233.8L320.4 223.8M287.9 285.2L297.9 280.1L304.2 270.1L310.4 255.1L316.7 247.6M285.4 180.0L287.9 202.5L291.6 185.0L295.4 181.3M108.9 835.4L111.4 821.6L117.7 817.9L125.2 824.1L136.4 825.4L145.2 831.6L157.2 837.4L147.7 836.6L135.2 830.4L117.7 830.4L115.2 837.9L118.9 850.4L120.7 862.9L113.9 857.9L110.1 847.9L108.9 835.4M466.7 1646.7L463.3 1655.0L470.0 1663.3L468.3 1650.0M1289.3 1711.3L1282.7 1721.3L1279.3 1729.7L1284.3 1759.7L1291.0 1776.3L1299.3 1788.0M1287.7 1711.3L1271.0 1709.7L1266.0 1699.0L1279.3 1706.3L1286.0 1703.0M1296.0 1689.7L1287.7 1674.7L1301.0 1673.0L1309.3 1659.7L1302.7 1655.7L1316.0 1651.3L1321.0 1659.7M1321.0 1656.3L1324.3 1639.7L1332.7 1644.7L1344.3 1636.3L1336.0 1629.7L1332.7 1619.7L1344.3 1626.3L1367.7 1626.3L1354.3 1634.7M1421.0 1591.3L1427.7 1576.3L1421.0 1558.0L1429.3 1563.0L1431.0 1554.7L1437.7 1554.7L1437.0 1568.0L1449.3 1568.0L1437.7 1579.7M1481.0 1554.7L1482.7 1543.0L1489.3 1539.7L1487.7 1549.7M1672.7 1521.4L1680.2 1507.7L1690.3 1507.2L1700.3 1512.7L1712.8 1515.2L1707.8 1518.9L1697.8 1522.7L1685.2 1528.2L1672.7 1521.4M1764.1 1507.7L1774.1 1510.2M1785.4 1507.7L1799.1 1503.9M1802.9 1505.7L1822.9 1502.1M1756.6 1521.4L1761.6 1527.7L1760.3 1537.7L1754.8 1546.5M1886.8 1485.1L1903.0 1483.9M1964.4 1526.4L1985.6 1517.7M1586.4 1560.2L1593.9 1557.7L1601.4 1562.7L1597.6 1568.2L1586.4 1562.7M2206.7 1543.3L2215.0 1563.3L2226.7 1580.0L2243.3 1606.7L2261.7 1631.7M2208.3 1543.3L2220.0 1555.0L2218.3 1566.7M2380.0 1043.3L2365.0 1035.0L2351.7 1033.3L2343.3 1043.3L2330.0 1050.0L2321.7 1043.3L2326.7 1060.0L2345.0 1056.7L2360.0 1051.7L2363.3 1066.7L2365.0 1053.3L2373.3 1050.0L2378.3 1060.0L2376.7 1070.0L2366.7 1086.7L2355.0 1090.0L2345.0 1088.3L2340.0 1083.3L2338.3 1091.7L2316.7 1090.0L2328.3 1095.0L2346.7 1096.7L2343.3 1113.3L2333.3 1118.3L2320.7 1111.7L2330.0 1120.7L2341.7 1118.3L2358.3 1115.0L2355.0 1128.3L2343.3 1131.7M2355.0 1008.3L2368.3 1036.7L2383.3 1053.3M2469.1 698.1L2455.3 705.1L2447.8 710.1L2450.3 698.8L2441.6 705.1L2440.3 713.8L2425.3 715.1L2412.8 722.6L2397.8 727.6L2390.3 732.6L2386.5 740.1L2381.5 747.6M2385.2 732.6L2392.8 722.6L2405.3 710.1L2420.3 698.1L2435.3 693.8L2450.3 686.3L2465.4 680.1L2477.9 673.8M2374.0 712.6L2380.2 720.1L2382.2 732.6L2379.0 747.6L2372.7 752.7M2347.7 796.5L2342.7 805.2L2332.7 811.5L2327.7 820.2L2328.9 830.3L2335.2 837.8L2340.2 844.0L2345.2 852.8L2352.7 862.8L2360.2 870.3L2365.2 875.3M2340.2 844.0L2352.7 847.8L2365.2 847.8L2366.5 861.5M2272.6 887.8L2267.6 900.3L2263.8 912.9L2266.3 922.9L2272.6 917.9L2280.1 914.1L2287.6 924.1L2300.1 927.9L2310.1 930.4L2320.2 940.4M2285.1 916.6L2295.1 921.6L2305.1 924.1L2315.2 929.1M2276.4 931.6L2287.6 937.9L2300.1 950.4L2310.1 957.9L2322.7 962.9L2328.9 967.9M2287.6 922.9L2305.1 927.9L2317.7 936.6L2322.7 942.9L2321.4 951.7L2310.1 951.7M2302.6 967.9L2312.7 978.0L2322.7 984.2L2331.4 988.0L2325.2 995.5M2281.4 984.2L2295.1 982.5L2307.6 986.7L2315.2 991.7L2325.2 1000.5L2336.4 994.2L2347.7 993.0L2356.5 1010.5M2310.1 837.8L2305.1 847.8L2296.4 852.8L2286.4 861.5L2295.1 865.3L2290.1 872.8L2293.9 880.3L2296.4 892.8L2300.1 902.9L2307.6 910.4M2310.1 837.8L2307.6 847.8L2303.9 857.8L2305.1 867.8L2308.9 865.3L2307.6 875.3L2303.9 877.8L2307.6 884.1L2306.4 890.3L2311.4 892.8L2322.7 894.1L2311.4 899.1L2312.7 905.4L2317.7 910.4L2325.2 912.9L2331.4 906.6L2333.9 917.9L2340.2 922.9L2338.9 930.4L2347.7 927.9L2343.9 937.9L2342.7 950.4L2343.9 967.9L2346.4 979.2M2370.2 900.3L2366.5 915.4L2362.7 930.4M2291.4 901.6L2297.6 910.4L2307.6 917.9M2496.6 658.0L2510.3 643.0L2515.4 650.5L2525.4 640.5M2476.6 650.5L2482.8 664.0M2484.1 653.0L2490.3 664.0M2556.7 452.7L2561.7 450.2L2564.2 457.7L2560.4 462.7L2556.7 457.7M2426.5 256.4L2400.2 253.9L2371.4 256.4L2382.7 258.9L2405.2 257.6L2426.5 257.6M1955.0 193.3L1966.7 181.7L1983.3 179.3M1996.7 183.3L2010.0 196.7L2018.3 203.3M2464.0 179.5L2454.0 192.5L2445.3 210.1L2441.5 227.6L2435.2 245.1L2426.5 256.4L2428.2 270.1L2425.2 287.7L2415.2 310.2L2410.2 327.7L2400.2 342.7L2400.2 342.6L2390.2 353.8L2370.2 370.1L2357.6 381.4L2333.9 410.2L2327.6 425.2L2323.8 445.2M2507.8 179.5L2490.3 197.5L2475.3 215.1L2465.3 232.6L2450.3 252.6L2440.3 270.1L2434.0 290.2L2425.2 312.7L2420.2 330.2L2410.2 342.7L2410.2 342.6L2397.7 352.6L2375.2 370.1L2360.1 385.1L2337.6 410.2L2331.4 425.2L2326.4 450.2M2323.8 445.2L2310.1 450.2L2305.1 462.7L2287.6 465.2M2326.4 450.2L2325.1 462.7L2315.1 467.7L2300.1 482.8L2282.5 501.5M2325.1 450.2L2312.6 460.2L2320.1 462.7L2325.1 455.2M236.6 197.5L250.3 207.6L260.3 220.1L272.9 226.3L285.4 232.1L291.6 232.6L295.4 238.8L304.2 240.1L306.7 232.6L315.4 223.8L322.9 220.1L326.7 205.0L322.9 188.0M236.6 197.5L231.6 210.1L228.3 223.8L231.6 232.6L234.1 243.8L231.6 262.6L229.8 277.6L226.6 285.7L239.1 290.7L226.6 293.2L226.6 302.7L231.6 307.2L226.6 317.7L222.8 310.2L215.3 326.5L217.3 332.7L212.8 350.2L207.8 367.8L197.8 387.8L185.2 410.3L179.0 430.3L170.2 442.9L164.0 457.9L157.2 472.9L145.2 487.9L150.2 487.4L142.7 489.9L133.9 502.9L122.2 516.7L123.2 530.5L117.7 544.0M122.7 540.0L116.4 550.0L114.7 561.3L119.7 568.8L112.7 580.1L115.7 587.6L113.9 600.1L103.9 615.1L100.1 626.4L87.6 641.4L78.1 651.4L75.1 665.2L82.6 680.2L87.6 697.7L86.4 710.2L79.6 725.2L78.1 740.3L74.3 753.3L81.4 769.1L87.6 782.8L93.1 790.3L93.1 800.3L97.1 811.6L87.6 817.9L95.1 815.4L100.1 825.4L108.9 835.4L105.1 845.4L102.1 855.4L102.1 865.4L99.6 872.9L105.1 888.0L117.7 895.5L120.7 903.0L117.7 910.5L112.7 914.0M117.7 910.0L108.9 917.5L105.1 931.3L111.4 945.0L116.4 960.1L121.4 978.8L127.7 986.4L132.7 997.6L136.4 1005.1L132.7 1012.6L141.4 1022.7L137.2 1032.7L135.2 1045.2L130.7 1055.2L136.4 1064.0L155.2 1069.0L170.2 1078.2L178.2 1080.2L186.5 1086.5L192.3 1095.2L192.3 1101.5L200.3 1110.3L210.3 1115.8L224.0 1119.8L228.3 1130.3L225.3 1139.1L230.3 1141.6L236.6 1139.1L243.3 1146.6L250.3 1154.1L257.8 1162.8L265.4 1175.4L269.1 1190.4L269.1 1205.4L265.9 1219.2L270.4 1221.7L269.1 1229.2M269.1 1229.2L269.1 1242.9L275.4 1253.0L275.4 1265.5L284.1 1276.7L281.6 1284.0M281.7 1284.0L276.7 1296.7L285.0 1310.0L289.3 1321.7L286.7 1333.3L296.0 1348.3L293.3 1370.0L301.0 1380.0L299.3 1396.7L296.7 1403.3L300.0 1416.7L313.3 1433.3L321.7 1443.3L332.7 1450.0L343.3 1468.3L355.0 1491.7L365.0 1506.7L367.7 1518.3L360.0 1535.0L353.3 1545.0L348.3 1548.3L338.3 1552.7L330.0 1552.7L305.0 1542.7L305.0 1548.3L316.7 1561.7L326.7 1575.0L327.7 1586.7L333.3 1593.3L345.0 1600.0L350.0 1608.3L358.3 1611.7L365.0 1628.3L368.3 1630.7L378.3 1628.3L387.3 1630.0L395.0 1621.7L394.3 1636.7L398.3 1646.7L413.3 1665.0L430.0 1677.3L436.7 1696.7L438.3 1710.0L436.7 1718.3L438.3 1723.3L433.3 1740.0M433.2 1739.9L428.2 1751.6L421.5 1763.3L414.9 1768.2L420.5 1774.9L422.5 1786.6L433.2 1789.9L440.5 1802.6L443.2 1793.2L446.5 1789.9L453.2 1799.9L463.2 1811.6L476.5 1824.9L486.5 1838.2L498.2 1854.9L513.2 1866.5L519.2 1883.2L520.5 1903.2L524.8 1915.9L533.2 1916.5L546.5 1908.2L559.8 1901.5L566.5 1884.9L563.1 1876.5L553.1 1869.9L551.5 1856.5L546.5 1843.2L536.5 1829.9L526.5 1819.2L522.5 1823.2L521.5 1833.2L516.5 1833.9L513.2 1828.2L508.2 1824.9L503.2 1813.2L502.5 1796.6L508.2 1784.9L506.5 1771.6L503.2 1767.9M371.7 1296.0L376.7 1308.3L370.7 1316.7L363.3 1341.7L366.7 1355.0L366.7 1383.3L361.7 1403.3L363.3 1413.3L369.3 1426.7L378.3 1435.0L385.0 1446.7L395.0 1460.0L401.7 1476.7L405.0 1486.7L405.0 1496.0L411.7 1496.7L413.3 1505.0L418.3 1507.3L420.7 1523.3L425.0 1530.0L431.7 1533.3L430.0 1543.3L433.3 1553.3L430.0 1563.3L431.7 1573.3L440.0 1585.0L449.3 1595.0L450.0 1606.7L453.3 1618.3L461.7 1626.7L460.0 1635.0L466.7 1646.7L471.7 1643.3L481.7 1656.7L483.3 1668.3L485.0 1680.0L486.7 1696.7L485.0 1713.3L490.0 1730.0L496.7 1736.7L498.3 1753.3L503.3 1768.0M371.7 1296.0L383.3 1306.7L393.3 1316.7L406.7 1330.0L415.0 1330.7L418.3 1324.0L431.7 1335.0L433.3 1346.7L446.7 1353.3L460.0 1360.7L458.3 1368.3L453.3 1370.0L450.0 1385.0L453.3 1400.0L460.0 1420.0L460.7 1440.0L466.7 1458.3L471.7 1471.7L470.7 1483.3L478.3 1490.0L478.3 1503.3L486.7 1516.7L491.7 1530.0L498.3 1545.0L508.3 1553.3L515.0 1570.0L521.7 1581.7L531.7 1588.3L536.7 1588.3L553.3 1595.0L546.7 1606.7L546.7 1620.0L551.7 1633.3L558.3 1641.7L577.3 1650.0L577.3 1663.3L581.7 1675.0L586.7 1677.3L598.3 1678.3L608.3 1691.7L610.0 1703.3L615.0 1710.0L606.7 1708.3L595.0 1721.7L593.3 1740.0L598.3 1750.0L606.7 1751.7L621.7 1745.0L610.0 1758.3L625.0 1760.0L628.3 1768.0M628.1 1767.9L624.8 1759.3L633.1 1768.2L649.8 1781.6L663.1 1793.2L663.1 1798.2L651.4 1794.9L663.1 1809.9L664.8 1821.6L676.4 1831.6L689.8 1836.6L689.1 1844.9L673.1 1835.9L686.4 1849.2L711.4 1873.2L719.7 1884.9L728.1 1901.5L736.4 1913.2L743.1 1928.2L753.1 1940.5M1261.7 1939.7L1264.3 1913.0L1269.3 1886.3L1276.0 1859.7L1284.3 1836.3L1296.0 1813.0L1299.3 1803.0L1300.3 1789.7M1300.3 1789.7L1297.7 1769.7L1292.7 1746.3L1289.3 1726.3L1289.3 1711.3L1296.0 1694.7L1307.7 1676.3L1321.0 1659.7L1344.3 1644.7L1371.0 1629.7L1394.3 1614.7L1411.0 1603.0L1421.0 1591.3L1437.7 1579.7L1454.3 1569.7L1471.0 1561.3L1487.7 1554.7L1504.3 1552.3L1521.0 1551.3L1537.7 1556.3L1551.0 1561.3L1571.0 1563.0M1570.8 1563.2L1582.6 1560.2L1579.6 1554.0L1585.1 1548.2L1593.1 1545.7L1596.4 1550.2L1606.4 1550.2L1615.2 1561.5L1625.2 1562.7L1628.9 1561.0L1630.2 1567.7L1636.4 1575.2L1627.7 1576.5L1640.2 1581.5L1657.7 1586.5L1662.7 1582.8L1667.7 1576.5L1675.2 1574.7L1681.5 1577.3L1686.5 1586.5L1692.8 1584.0L1695.3 1575.2L1695.8 1565.2L1689.0 1559.0L1700.3 1561.5L1707.8 1565.2L1712.8 1570.2L1725.3 1572.7L1735.3 1584.0L1734.1 1590.3L1741.6 1585.3L1746.6 1588.3L1750.3 1582.8L1754.1 1576.5L1746.6 1572.7L1741.6 1569.0L1732.8 1566.5L1722.8 1562.7L1712.8 1552.7L1716.5 1547.7L1725.3 1542.7L1731.6 1538.9L1732.8 1532.7L1729.1 1526.4L1721.5 1527.2L1719.0 1533.9L1712.8 1534.7L1706.5 1528.9L1710.3 1522.7L1717.8 1520.2L1725.3 1512.7L1732.8 1505.2L1737.8 1505.7L1754.1 1498.9L1762.9 1500.6L1780.4 1498.9L1794.1 1498.1L1796.6 1488.9L1797.9 1478.9L1801.7 1477.1L1805.4 1482.6L1807.9 1492.6L1814.2 1500.1L1825.4 1501.4L1830.4 1491.4L1834.2 1498.9L1845.5 1493.9L1846.7 1485.1L1850.5 1481.4L1849.2 1487.6L1855.5 1478.9L1858.0 1486.4L1850.5 1492.6L1863.0 1490.1L1875.5 1486.4L1888.0 1480.1L1900.5 1479.6L1904.3 1483.1L1895.5 1486.4L1913.1 1491.4L1925.6 1496.4L1931.8 1488.9L1933.1 1495.1L1929.3 1498.9L1940.6 1505.2L1950.6 1513.9L1948.1 1520.2L1953.1 1523.9L1968.1 1518.9L1980.6 1513.9L1990.7 1506.4L2003.2 1502.7L2001.9 1495.1L2008.2 1491.4L2019.4 1488.1L2039.5 1497.1M2039.3 1497.0L2050.0 1506.7L2066.7 1522.7L2086.7 1535.0L2100.0 1543.3L2107.3 1553.3L2110.0 1576.7L2107.3 1600.0L2106.0 1620.0L2110.0 1626.7L2118.3 1625.0L2120.7 1616.7L2115.0 1610.7L2123.3 1613.3L2131.7 1616.7L2125.0 1633.3L2116.7 1640.0L2123.3 1648.3L2133.3 1663.3L2143.3 1673.3L2151.7 1676.7L2155.0 1668.3L2161.7 1667.3L2161.7 1683.3L2165.0 1696.7L2156.7 1693.3L2158.3 1700.0L2166.7 1701.7L2170.0 1690.0L2175.0 1683.3L2171.7 1695.0L2176.7 1700.0L2181.7 1713.3L2190.0 1725.0L2200.0 1730.7L2211.7 1731.7L2216.7 1741.7L2230.0 1758.3L2230.0 1766.7L2235.0 1772.7L2243.3 1770.0L2255.0 1766.7L2266.7 1760.0L2275.0 1751.7L2274.0 1736.7L2278.3 1723.3L2281.7 1720.0L2281.0 1706.7L2279.3 1686.7L2276.7 1666.7L2271.7 1650.0L2263.3 1633.3L2250.0 1611.7L2238.3 1593.3L2226.7 1573.3L2228.3 1556.7L2213.3 1538.3L2200.0 1521.7L2183.3 1498.3L2168.3 1471.7L2158.3 1450.0L2150.0 1428.3L2146.7 1413.3L2148.3 1400.0M2148.3 1400.0L2151.7 1390.0L2150.0 1383.3L2155.0 1375.0L2154.0 1366.7L2159.3 1355.0L2165.0 1350.0L2166.7 1338.3L2172.7 1330.7L2166.7 1317.3L2173.3 1323.3L2183.3 1320.7L2185.0 1310.0L2176.7 1308.3L2190.0 1306.7L2198.3 1300.0L2208.3 1293.3L2211.7 1286.7L2208.3 1285.0L2216.7 1281.7L2223.3 1269.3L2233.3 1263.3L2239.3 1253.3L2235.0 1243.3L2240.7 1238.3L2245.0 1226.7L2253.3 1215.0L2263.3 1205.0L2275.0 1200.7L2291.7 1197.3L2295.0 1193.3L2290.7 1181.7L2296.7 1183.3L2298.3 1173.3L2305.0 1163.3L2315.0 1151.7L2310.7 1141.7L2316.7 1145.0L2325.0 1138.3L2343.3 1134.0L2355.0 1136.7L2366.7 1114.0L2375.0 1103.3L2395.0 1090.0L2397.3 1076.7L2395.0 1063.3L2389.3 1053.3L2380.0 1043.3L2368.3 1025.0L2355.0 1006.7L2348.3 995.0M2525.4 645.0L2545.4 635.5L2541.6 624.2L2535.4 616.7L2525.4 612.9L2522.9 615.4L2530.4 620.4L2534.1 628.0L2530.4 634.2L2521.6 636.7L2514.1 633.0L2510.3 625.4L2502.8 617.9L2496.6 612.9L2484.1 610.4L2486.6 601.7L2491.6 594.2L2496.6 589.1L2490.3 586.6L2485.3 580.4L2480.3 577.9L2480.8 565.4L2485.3 550.3L2487.8 540.3L2494.1 525.3L2491.6 521.6L2496.6 514.0L2502.8 510.3L2507.8 512.8L2509.1 505.3L2510.3 497.8L2519.1 500.3L2524.1 491.5L2532.9 487.8L2534.1 477.8L2532.9 470.2L2531.6 460.2L2536.6 452.7L2540.4 462.7L2547.9 462.7L2547.9 472.7L2554.2 460.2L2556.7 450.2L2562.9 462.7L2566.7 455.2L2575.4 445.2L2575.4 437.7L2585.4 432.7L2590.5 425.2L2598.0 418.9L2603.0 410.2L2598.0 407.7L2596.7 397.6L2586.7 392.6M2586.7 392.6L2598.0 391.4L2603.0 393.9L2611.7 387.6L2620.5 385.1L2625.5 377.6L2629.3 362.6L2625.5 370.1L2635.5 371.4L2641.8 370.1L2650.5 360.1L2660.5 350.1L2670.6 333.8L2676.8 323.8L2680.1 317.5L2682.6 321.3L2679.3 332.6L2675.6 345.1L2685.6 342.6L2694.3 340.1L2708.1 332.6L2725.6 323.8L2738.2 320.0L2725.6 330.1L2715.6 337.6L2708.1 342.6L2715.6 355.1L2704.4 350.1L2700.6 343.8L2695.6 346.3L2688.1 355.1L2675.6 372.6L2663.1 390.1L2655.5 402.7L2649.3 412.7L2645.5 425.2L2643.0 432.7L2648.0 430.2L2650.5 442.7L2660.5 455.2L2668.1 456.5L2675.6 460.2L2685.6 464.0L2690.6 460.2L2698.1 460.2L2699.4 452.7L2698.1 446.5L2708.1 437.7L2713.1 422.7L2719.4 407.7L2723.1 395.1L2719.4 386.4L2724.4 380.1L2730.6 372.6L2738.2 377.6L2748.2 373.9L2746.9 365.1L2760.7 356.3L2775.7 347.6L2788.2 335.1L2800.7 322.5L2813.3 308.8L2821.3 302.5M2616.7 179.5L2610.5 192.5L2600.5 201.3L2593.0 203.8L2572.9 202.5L2567.9 210.1L2554.2 215.1L2545.4 225.1L2560.4 217.6L2580.4 216.3L2586.7 220.1L2595.5 228.8L2603.0 220.1L2610.5 211.3L2625.5 208.8L2631.8 211.3L2633.0 202.5L2630.5 192.5L2633.0 207.6L2629.3 220.1L2630.5 232.6L2625.5 245.1L2620.5 256.4L2630.5 250.1L2639.3 250.1L2643.0 262.6L2653.0 270.1L2660.5 280.1L2666.8 287.7L2673.1 292.7L2685.6 287.7L2698.1 286.4L2694.3 295.2L2693.1 300.2L2703.1 297.7L2713.1 300.2L2725.6 295.2L2740.7 292.7L2755.7 290.2L2758.2 295.2L2765.7 287.7L2771.9 280.1L2778.2 270.1L2785.7 277.6L2800.7 275.1L2810.7 280.1L2821.3 287.7M2346.4 979.2L2350.2 967.9L2353.2 957.9L2357.7 950.4L2356.5 940.4L2360.2 927.9L2365.2 915.4L2370.2 902.9L2371.5 892.8L2366.5 887.8L2365.2 875.3M2366.5 861.5L2372.7 855.3L2376.5 837.8L2381.5 830.3L2381.5 819.0L2386.5 815.2L2390.3 802.7L2391.5 787.7L2390.3 770.2L2386.5 760.2L2379.0 757.7L2375.2 760.2L2372.7 755.2L2379.0 747.6L2386.5 751.4L2400.3 745.1L2417.8 737.6L2430.3 728.9L2444.1 720.1L2457.8 707.6L2469.1 698.1M2477.9 673.8L2484.1 667.5L2487.9 661.3L2491.6 658.8L2500.4 653.8L2507.9 645.0L2512.9 647.5L2517.9 652.5L2525.4 645.0L2535.4 640.0" fill="none" stroke="#000" stroke-width="4.17" stroke-linejoin="round" stroke-linecap="round"/>
<path d="M429.9 1738.3L421.5 1759.9L416.5 1768.2M2278.3 1753.3L2271.7 1770.0L2263.3 1783.3M2476.7 1701.7L2480.0 1693.3L2490.0 1700.0L2503.3 1703.3L2520.0 1713.3L2522.7 1733.3L2524.0 1743.3L2513.3 1736.0L2520.0 1731.7L2517.3 1715.0L2500.0 1705.0L2480.0 1701.7M2548.3 1735.0L2566.7 1751.7L2581.7 1760.0L2570.0 1766.0L2573.3 1760.0L2563.3 1753.3L2548.3 1736.7M2546.7 1802.7L2560.0 1808.3L2572.7 1812.7M2588.3 1792.7L2600.0 1808.3L2610.0 1821.7L2628.3 1836.0L2616.7 1825.0L2601.7 1823.3L2610.0 1820.7M2660.0 1830.0L2680.0 1835.0L2690.0 1828.3L2694.0 1840.0L2686.7 1853.3L2673.3 1870.0M2735.0 1837.3L2746.7 1834.3L2761.7 1836.0M2348.2 1903.9L2366.5 1911.6M2406.5 1910.6L2426.5 1906.6L2433.2 1911.6L2443.2 1909.9L2449.8 1916.6L2461.5 1921.6L2464.8 1928.2L2477.1 1927.2L2476.5 1936.6L2463.1 1933.2L2446.5 1919.9L2429.8 1914.9L2408.2 1912.6M2483.1 1937.2L2496.5 1939.9" fill="none" stroke="#000" stroke-width="6.5" stroke-linejoin="round" stroke-linecap="round"/>
<path d="M296.6 205.0L304.2 202.5L315.4 207.6L311.7 215.1L304.2 218.8L299.1 213.8ZM291.6 182.5L300.4 181.3L297.9 192.5L291.6 195.0ZM309.2 181.3L319.2 181.3L317.9 187.5L310.4 187.5ZM312.9 218.8L321.7 220.1L321.7 227.6L314.2 226.3ZM128.9 1088.2L136.4 1087.2L140.2 1094.7L148.9 1096.5L152.2 1101.5L145.2 1104.0L140.7 1100.3L136.4 1092.7ZM156.5 1095.2L162.7 1095.7L175.2 1102.3L174.0 1105.8L160.2 1104.0ZM157.7 1147.8L164.0 1146.6L166.5 1154.1L161.5 1154.8ZM211.5 1150.3L217.8 1152.3L224.0 1160.3L224.8 1165.8L216.5 1163.3ZM202.3 1177.4L207.3 1176.6L214.0 1192.9L209.0 1194.1L204.0 1187.9ZM490.0 1713.3L498.3 1701.0L500.0 1706.7L493.3 1715.0ZM489.8 1714.9L496.5 1701.6L501.5 1702.6L494.8 1713.9ZM509.8 1768.2L514.8 1767.2L518.2 1779.9L513.2 1781.6ZM546.5 1824.9L549.8 1823.2L553.1 1834.9L549.2 1836.6ZM2256.7 1786.0L2259.3 1789.3L2251.7 1794.0L2249.3 1790.7ZM2246.0 1794.3L2248.3 1797.7L2238.3 1802.7L2236.0 1799.3ZM2224.0 1801.0L2228.3 1803.3L2224.0 1809.3L2220.7 1806.7ZM2216.7 1805.0L2219.3 1808.3L2211.7 1814.0L2209.3 1810.7ZM2204.0 1814.3L2206.0 1817.3L2200.0 1820.0L2198.3 1816.7ZM2438.3 1737.3L2446.7 1732.7L2456.0 1733.3L2446.7 1739.3ZM2626.7 1750.7L2631.7 1750.0L2632.7 1758.3L2628.3 1763.3L2626.0 1756.7ZM2793.3 1861.7L2805.0 1858.3L2806.7 1862.7L2798.3 1866.0ZM2810.0 1846.0L2821.0 1846.7L2821.0 1851.7L2811.7 1850.0ZM2756.0 1893.3L2766.7 1889.3L2761.7 1898.0L2756.7 1897.3ZM2193.3 1940.6L2203.3 1937.2L2218.2 1935.9L2228.2 1940.6ZM2756.4 1890.6L2762.4 1886.6L2766.4 1891.6L2760.4 1896.6ZM2510.4 663.8L2515.9 658.0L2523.4 657.5L2521.7 662.0L2514.2 667.5ZM2537.5 660.5L2546.7 651.3L2551.0 658.0L2545.5 662.5ZM2609.2 408.9L2614.2 406.4L2616.7 415.2L2611.7 420.2ZM2545.4 469.0L2550.4 467.7L2549.9 472.7L2545.9 474.0ZM2814.5 242.6L2821.3 240.1L2821.3 257.6L2816.3 256.4ZM2741.9 181.3L2748.2 180.0L2751.9 191.3L2744.4 195.0ZM2673.1 308.9L2681.8 312.7L2684.3 317.7L2676.8 316.4Z" fill="#000" stroke="#000" stroke-width="2.2" stroke-linejoin="round"/>
</g>
<rect x="30.3" y="178.3" width="2790.2" height="1762.3" fill="none" stroke="#000" stroke-width="3.3"/>
<text x="1424.9" y="80" font-size="69.8" text-anchor="middle" font-family="Liberation Sans, sans-serif" textLength="1052" lengthAdjust="spacingAndGlyphs">Hit Rate (Above Normal): CWRF</text>
<text x="1424.6" y="154.3" font-size="69.8" text-anchor="middle" font-family="Liberation Sans, sans-serif" textLength="1402" lengthAdjust="spacingAndGlyphs">Variable: T2MAX, Month: AUG, Start: 0312</text>
<rect x="2993.7" y="1597.9" width="75.0" height="135.0" fill="#053061" shape-rendering="crispEdges"/>
<rect x="2993.7" y="1463.4" width="75.0" height="135.0" fill="#246aae" shape-rendering="crispEdges"/>
<rect x="2993.7" y="1329.0" width="75.0" height="135.0" fill="#529dc8" shape-rendering="crispEdges"/>
<rect x="2993.7" y="1194.6" width="75.0" height="135.0" fill="#a7d0e4" shape-rendering="crispEdges"/>
<rect x="2993.7" y="1060.1" width="75.0" height="135.0" fill="#e1edf3" shape-rendering="crispEdges"/>
<rect x="2993.7" y="925.7" width="75.0" height="135.0" fill="#fae8de" shape-rendering="crispEdges"/>
<rect x="2993.7" y="791.3" width="75.0" height="135.0" fill="#f7b799" shape-rendering="crispEdges"/>
<rect x="2993.7" y="656.9" width="75.0" height="135.0" fill="#dd7059" shape-rendering="crispEdges"/>
<rect x="2993.7" y="522.4" width="75.0" height="135.0" fill="#b72230" shape-rendering="crispEdges"/>
<rect x="2993.7" y="388.0" width="75.0" height="135.0" fill="#67001f" shape-rendering="crispEdges"/>
<path d="M2993.7 1732.3L3031.2 1799.5L3068.7 1732.3Z" fill="#053061"/>
<path d="M2993.7 388.0L3031.2 320.8L3068.7 388.0Z" fill="#67001f"/>
<path d="M2993.7 1732.3L3031.2 1799.5L3068.7 1732.3V388.0L3031.2 320.8L2993.7 388.0Z" fill="none" stroke="#000" stroke-width="3.3" stroke-linejoin="miter"/>
<path d="M3068.7 1732.3h14.6" stroke="#000" stroke-width="3.3"/>
<text x="3098.5" y="1747.9" font-size="42.6" font-family="Liberation Sans, sans-serif" textLength="64" lengthAdjust="spacingAndGlyphs">0.0</text>
<path d="M3068.7 1597.9h14.6" stroke="#000" stroke-width="3.3"/>
<text x="3098.5" y="1613.5" font-size="42.6" font-family="Liberation Sans, sans-serif" textLength="64" lengthAdjust="spacingAndGlyphs">0.1</text>
<path d="M3068.7 1463.4h14.6" stroke="#000" stroke-width="3.3"/>
<text x="3098.5" y="1479.0" font-size="42.6" font-family="Liberation Sans, sans-serif" textLength="64" lengthAdjust="spacingAndGlyphs">0.2</text>
<path d="M3068.7 1329.0h14.6" stroke="#000" stroke-width="3.3"/>
<text x="3098.5" y="1344.6" font-size="42.6" font-family="Liberation Sans, sans-serif" textLength="64" lengthAdjust="spacingAndGlyphs">0.3</text>
<path d="M3068.7 1194.6h14.6" stroke="#000" stroke-width="3.3"/>
<text x="3098.5" y="1210.2" font-size="42.6" font-family="Liberation Sans, sans-serif" textLength="64" lengthAdjust="spacingAndGlyphs">0.4</text>
<path d="M3068.7 1060.1h14.6" stroke="#000" stroke-width="3.3"/>
<text x="3098.5" y="1075.7" font-size="42.6" font-family="Liberation Sans, sans-serif" textLength="64" lengthAdjust="spacingAndGlyphs">0.5</text>
<path d="M3068.7 925.7h14.6" stroke="#000" stroke-width="3.3"/>
<text x="3098.5" y="941.3" font-size="42.6" font-family="Liberation Sans, sans-serif" textLength="64" lengthAdjust="spacingAndGlyphs">0.6</text>
<path d="M3068.7 791.3h14.6" stroke="#000" stroke-width="3.3"/>
<text x="3098.5" y="806.9" font-size="42.6" font-family="Liberation Sans, sans-serif" textLength="64" lengthAdjust="spacingAndGlyphs">0.7</text>
<path d="M3068.7 656.9h14.6" stroke="#000" stroke-width="3.3"/>
<text x="3098.5" y="672.5" font-size="42.6" font-family="Liberation Sans, sans-serif" textLength="64" lengthAdjust="spacingAndGlyphs">0.8</text>
<path d="M3068.7 522.4h14.6" stroke="#000" stroke-width="3.3"/>
<text x="3098.5" y="538.0" font-size="42.6" font-family="Liberation Sans, sans-serif" textLength="64" lengthAdjust="spacingAndGlyphs">0.9</text>
<path d="M3068.7 388.0h14.6" stroke="#000" stroke-width="3.3"/>
<text x="3098.5" y="403.6" font-size="42.6" font-family="Liberation Sans, sans-serif" textLength="64" lengthAdjust="spacingAndGlyphs">1.0</text>
<text transform="translate(3212.5,1063.1) rotate(-90)" font-size="43.7" text-anchor="middle" font-family="Liberation Sans, sans-serif" textLength="169.3" lengthAdjust="spacingAndGlyphs">Hit Rate</text>
</svg></body></html>
